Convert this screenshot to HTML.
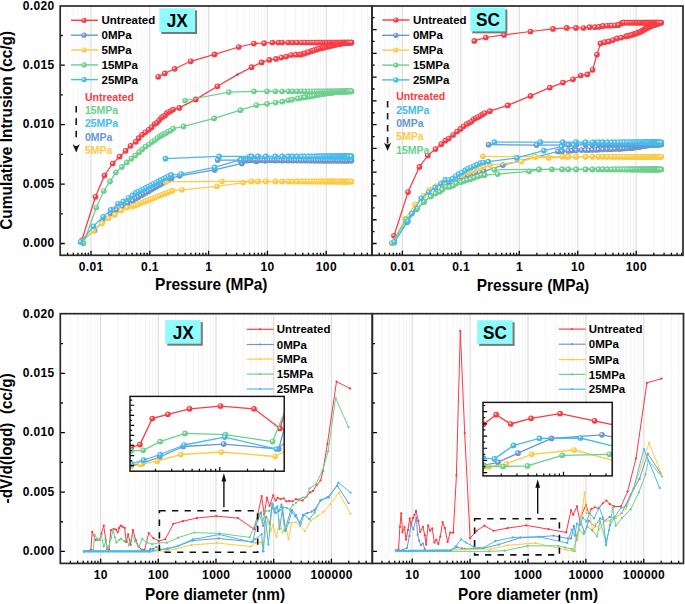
<!DOCTYPE html>
<html><head><meta charset="utf-8"><style>
html,body{margin:0;padding:0;background:#fff;}
svg{display:block;}
</style></head><body>
<svg width="685" height="604" viewBox="0 0 685 604">
<rect width="685" height="604" fill="#fff"/>
<line x1="67.60" y1="6.0" x2="67.60" y2="255.3" stroke="#f3f3f3" stroke-width="0.8"/>
<line x1="73.30" y1="6.0" x2="73.30" y2="255.3" stroke="#f3f3f3" stroke-width="0.8"/>
<line x1="77.96" y1="6.0" x2="77.96" y2="255.3" stroke="#f3f3f3" stroke-width="0.8"/>
<line x1="81.89" y1="6.0" x2="81.89" y2="255.3" stroke="#f3f3f3" stroke-width="0.8"/>
<line x1="85.30" y1="6.0" x2="85.30" y2="255.3" stroke="#f3f3f3" stroke-width="0.8"/>
<line x1="88.31" y1="6.0" x2="88.31" y2="255.3" stroke="#f3f3f3" stroke-width="0.8"/>
<line x1="91.00" y1="6.0" x2="91.00" y2="255.3" stroke="#dedede" stroke-width="1.2"/>
<line x1="108.70" y1="6.0" x2="108.70" y2="255.3" stroke="#f3f3f3" stroke-width="0.8"/>
<line x1="119.05" y1="6.0" x2="119.05" y2="255.3" stroke="#f3f3f3" stroke-width="0.8"/>
<line x1="126.40" y1="6.0" x2="126.40" y2="255.3" stroke="#f3f3f3" stroke-width="0.8"/>
<line x1="132.10" y1="6.0" x2="132.10" y2="255.3" stroke="#f3f3f3" stroke-width="0.8"/>
<line x1="136.76" y1="6.0" x2="136.76" y2="255.3" stroke="#f3f3f3" stroke-width="0.8"/>
<line x1="140.69" y1="6.0" x2="140.69" y2="255.3" stroke="#f3f3f3" stroke-width="0.8"/>
<line x1="144.10" y1="6.0" x2="144.10" y2="255.3" stroke="#f3f3f3" stroke-width="0.8"/>
<line x1="147.11" y1="6.0" x2="147.11" y2="255.3" stroke="#f3f3f3" stroke-width="0.8"/>
<line x1="149.80" y1="6.0" x2="149.80" y2="255.3" stroke="#dedede" stroke-width="1.2"/>
<line x1="167.50" y1="6.0" x2="167.50" y2="255.3" stroke="#f3f3f3" stroke-width="0.8"/>
<line x1="177.85" y1="6.0" x2="177.85" y2="255.3" stroke="#f3f3f3" stroke-width="0.8"/>
<line x1="185.20" y1="6.0" x2="185.20" y2="255.3" stroke="#f3f3f3" stroke-width="0.8"/>
<line x1="190.90" y1="6.0" x2="190.90" y2="255.3" stroke="#f3f3f3" stroke-width="0.8"/>
<line x1="195.56" y1="6.0" x2="195.56" y2="255.3" stroke="#f3f3f3" stroke-width="0.8"/>
<line x1="199.49" y1="6.0" x2="199.49" y2="255.3" stroke="#f3f3f3" stroke-width="0.8"/>
<line x1="202.90" y1="6.0" x2="202.90" y2="255.3" stroke="#f3f3f3" stroke-width="0.8"/>
<line x1="205.91" y1="6.0" x2="205.91" y2="255.3" stroke="#f3f3f3" stroke-width="0.8"/>
<line x1="208.60" y1="6.0" x2="208.60" y2="255.3" stroke="#dedede" stroke-width="1.2"/>
<line x1="226.30" y1="6.0" x2="226.30" y2="255.3" stroke="#f3f3f3" stroke-width="0.8"/>
<line x1="236.65" y1="6.0" x2="236.65" y2="255.3" stroke="#f3f3f3" stroke-width="0.8"/>
<line x1="244.00" y1="6.0" x2="244.00" y2="255.3" stroke="#f3f3f3" stroke-width="0.8"/>
<line x1="249.70" y1="6.0" x2="249.70" y2="255.3" stroke="#f3f3f3" stroke-width="0.8"/>
<line x1="254.36" y1="6.0" x2="254.36" y2="255.3" stroke="#f3f3f3" stroke-width="0.8"/>
<line x1="258.29" y1="6.0" x2="258.29" y2="255.3" stroke="#f3f3f3" stroke-width="0.8"/>
<line x1="261.70" y1="6.0" x2="261.70" y2="255.3" stroke="#f3f3f3" stroke-width="0.8"/>
<line x1="264.71" y1="6.0" x2="264.71" y2="255.3" stroke="#f3f3f3" stroke-width="0.8"/>
<line x1="267.40" y1="6.0" x2="267.40" y2="255.3" stroke="#dedede" stroke-width="1.2"/>
<line x1="285.10" y1="6.0" x2="285.10" y2="255.3" stroke="#f3f3f3" stroke-width="0.8"/>
<line x1="295.45" y1="6.0" x2="295.45" y2="255.3" stroke="#f3f3f3" stroke-width="0.8"/>
<line x1="302.80" y1="6.0" x2="302.80" y2="255.3" stroke="#f3f3f3" stroke-width="0.8"/>
<line x1="308.50" y1="6.0" x2="308.50" y2="255.3" stroke="#f3f3f3" stroke-width="0.8"/>
<line x1="313.16" y1="6.0" x2="313.16" y2="255.3" stroke="#f3f3f3" stroke-width="0.8"/>
<line x1="317.09" y1="6.0" x2="317.09" y2="255.3" stroke="#f3f3f3" stroke-width="0.8"/>
<line x1="320.50" y1="6.0" x2="320.50" y2="255.3" stroke="#f3f3f3" stroke-width="0.8"/>
<line x1="323.51" y1="6.0" x2="323.51" y2="255.3" stroke="#f3f3f3" stroke-width="0.8"/>
<line x1="326.20" y1="6.0" x2="326.20" y2="255.3" stroke="#dedede" stroke-width="1.2"/>
<line x1="343.90" y1="6.0" x2="343.90" y2="255.3" stroke="#f3f3f3" stroke-width="0.8"/>
<line x1="354.25" y1="6.0" x2="354.25" y2="255.3" stroke="#f3f3f3" stroke-width="0.8"/>
<line x1="361.60" y1="6.0" x2="361.60" y2="255.3" stroke="#f3f3f3" stroke-width="0.8"/>
<line x1="367.30" y1="6.0" x2="367.30" y2="255.3" stroke="#f3f3f3" stroke-width="0.8"/>
<path d="M67.60 255.30v-2.6 M73.30 255.30v-2.6 M77.96 255.30v-2.6 M81.89 255.30v-2.6 M85.30 255.30v-2.6 M88.31 255.30v-2.6 M91.00 255.30v-4.6 M108.70 255.30v-2.6 M119.05 255.30v-2.6 M126.40 255.30v-2.6 M132.10 255.30v-2.6 M136.76 255.30v-2.6 M140.69 255.30v-2.6 M144.10 255.30v-2.6 M147.11 255.30v-2.6 M149.80 255.30v-4.6 M167.50 255.30v-2.6 M177.85 255.30v-2.6 M185.20 255.30v-2.6 M190.90 255.30v-2.6 M195.56 255.30v-2.6 M199.49 255.30v-2.6 M202.90 255.30v-2.6 M205.91 255.30v-2.6 M208.60 255.30v-4.6 M226.30 255.30v-2.6 M236.65 255.30v-2.6 M244.00 255.30v-2.6 M249.70 255.30v-2.6 M254.36 255.30v-2.6 M258.29 255.30v-2.6 M261.70 255.30v-2.6 M264.71 255.30v-2.6 M267.40 255.30v-4.6 M285.10 255.30v-2.6 M295.45 255.30v-2.6 M302.80 255.30v-2.6 M308.50 255.30v-2.6 M313.16 255.30v-2.6 M317.09 255.30v-2.6 M320.50 255.30v-2.6 M323.51 255.30v-2.6 M326.20 255.30v-4.6 M343.90 255.30v-2.6 M354.25 255.30v-2.6 M361.60 255.30v-2.6 M367.30 255.30v-2.6 M60.20 213.78h2.6 M60.20 184.07h4.6 M60.20 154.36h2.6 M60.20 124.64h4.6 M60.20 94.92h2.6 M60.20 65.21h4.6 M60.20 35.49h2.6 M60.20 243.50h4.6" stroke="#000" stroke-width="1.3" fill="none"/>
<line x1="379.14" y1="6.0" x2="379.14" y2="255.3" stroke="#f3f3f3" stroke-width="0.8"/>
<line x1="384.80" y1="6.0" x2="384.80" y2="255.3" stroke="#f3f3f3" stroke-width="0.8"/>
<line x1="389.43" y1="6.0" x2="389.43" y2="255.3" stroke="#f3f3f3" stroke-width="0.8"/>
<line x1="393.35" y1="6.0" x2="393.35" y2="255.3" stroke="#f3f3f3" stroke-width="0.8"/>
<line x1="396.74" y1="6.0" x2="396.74" y2="255.3" stroke="#f3f3f3" stroke-width="0.8"/>
<line x1="399.73" y1="6.0" x2="399.73" y2="255.3" stroke="#f3f3f3" stroke-width="0.8"/>
<line x1="402.40" y1="6.0" x2="402.40" y2="255.3" stroke="#dedede" stroke-width="1.2"/>
<line x1="420.00" y1="6.0" x2="420.00" y2="255.3" stroke="#f3f3f3" stroke-width="0.8"/>
<line x1="430.29" y1="6.0" x2="430.29" y2="255.3" stroke="#f3f3f3" stroke-width="0.8"/>
<line x1="437.59" y1="6.0" x2="437.59" y2="255.3" stroke="#f3f3f3" stroke-width="0.8"/>
<line x1="443.25" y1="6.0" x2="443.25" y2="255.3" stroke="#f3f3f3" stroke-width="0.8"/>
<line x1="447.88" y1="6.0" x2="447.88" y2="255.3" stroke="#f3f3f3" stroke-width="0.8"/>
<line x1="451.80" y1="6.0" x2="451.80" y2="255.3" stroke="#f3f3f3" stroke-width="0.8"/>
<line x1="455.19" y1="6.0" x2="455.19" y2="255.3" stroke="#f3f3f3" stroke-width="0.8"/>
<line x1="458.18" y1="6.0" x2="458.18" y2="255.3" stroke="#f3f3f3" stroke-width="0.8"/>
<line x1="460.85" y1="6.0" x2="460.85" y2="255.3" stroke="#dedede" stroke-width="1.2"/>
<line x1="478.45" y1="6.0" x2="478.45" y2="255.3" stroke="#f3f3f3" stroke-width="0.8"/>
<line x1="488.74" y1="6.0" x2="488.74" y2="255.3" stroke="#f3f3f3" stroke-width="0.8"/>
<line x1="496.04" y1="6.0" x2="496.04" y2="255.3" stroke="#f3f3f3" stroke-width="0.8"/>
<line x1="501.70" y1="6.0" x2="501.70" y2="255.3" stroke="#f3f3f3" stroke-width="0.8"/>
<line x1="506.33" y1="6.0" x2="506.33" y2="255.3" stroke="#f3f3f3" stroke-width="0.8"/>
<line x1="510.25" y1="6.0" x2="510.25" y2="255.3" stroke="#f3f3f3" stroke-width="0.8"/>
<line x1="513.64" y1="6.0" x2="513.64" y2="255.3" stroke="#f3f3f3" stroke-width="0.8"/>
<line x1="516.63" y1="6.0" x2="516.63" y2="255.3" stroke="#f3f3f3" stroke-width="0.8"/>
<line x1="519.30" y1="6.0" x2="519.30" y2="255.3" stroke="#dedede" stroke-width="1.2"/>
<line x1="536.90" y1="6.0" x2="536.90" y2="255.3" stroke="#f3f3f3" stroke-width="0.8"/>
<line x1="547.19" y1="6.0" x2="547.19" y2="255.3" stroke="#f3f3f3" stroke-width="0.8"/>
<line x1="554.49" y1="6.0" x2="554.49" y2="255.3" stroke="#f3f3f3" stroke-width="0.8"/>
<line x1="560.15" y1="6.0" x2="560.15" y2="255.3" stroke="#f3f3f3" stroke-width="0.8"/>
<line x1="564.78" y1="6.0" x2="564.78" y2="255.3" stroke="#f3f3f3" stroke-width="0.8"/>
<line x1="568.70" y1="6.0" x2="568.70" y2="255.3" stroke="#f3f3f3" stroke-width="0.8"/>
<line x1="572.09" y1="6.0" x2="572.09" y2="255.3" stroke="#f3f3f3" stroke-width="0.8"/>
<line x1="575.08" y1="6.0" x2="575.08" y2="255.3" stroke="#f3f3f3" stroke-width="0.8"/>
<line x1="577.75" y1="6.0" x2="577.75" y2="255.3" stroke="#dedede" stroke-width="1.2"/>
<line x1="595.35" y1="6.0" x2="595.35" y2="255.3" stroke="#f3f3f3" stroke-width="0.8"/>
<line x1="605.64" y1="6.0" x2="605.64" y2="255.3" stroke="#f3f3f3" stroke-width="0.8"/>
<line x1="612.94" y1="6.0" x2="612.94" y2="255.3" stroke="#f3f3f3" stroke-width="0.8"/>
<line x1="618.60" y1="6.0" x2="618.60" y2="255.3" stroke="#f3f3f3" stroke-width="0.8"/>
<line x1="623.23" y1="6.0" x2="623.23" y2="255.3" stroke="#f3f3f3" stroke-width="0.8"/>
<line x1="627.15" y1="6.0" x2="627.15" y2="255.3" stroke="#f3f3f3" stroke-width="0.8"/>
<line x1="630.54" y1="6.0" x2="630.54" y2="255.3" stroke="#f3f3f3" stroke-width="0.8"/>
<line x1="633.53" y1="6.0" x2="633.53" y2="255.3" stroke="#f3f3f3" stroke-width="0.8"/>
<line x1="636.20" y1="6.0" x2="636.20" y2="255.3" stroke="#dedede" stroke-width="1.2"/>
<line x1="653.80" y1="6.0" x2="653.80" y2="255.3" stroke="#f3f3f3" stroke-width="0.8"/>
<line x1="664.09" y1="6.0" x2="664.09" y2="255.3" stroke="#f3f3f3" stroke-width="0.8"/>
<line x1="671.39" y1="6.0" x2="671.39" y2="255.3" stroke="#f3f3f3" stroke-width="0.8"/>
<line x1="677.05" y1="6.0" x2="677.05" y2="255.3" stroke="#f3f3f3" stroke-width="0.8"/>
<line x1="681.68" y1="6.0" x2="681.68" y2="255.3" stroke="#f3f3f3" stroke-width="0.8"/>
<path d="M379.14 255.30v-2.6 M384.80 255.30v-2.6 M389.43 255.30v-2.6 M393.35 255.30v-2.6 M396.74 255.30v-2.6 M399.73 255.30v-2.6 M402.40 255.30v-4.6 M420.00 255.30v-2.6 M430.29 255.30v-2.6 M437.59 255.30v-2.6 M443.25 255.30v-2.6 M447.88 255.30v-2.6 M451.80 255.30v-2.6 M455.19 255.30v-2.6 M458.18 255.30v-2.6 M460.85 255.30v-4.6 M478.45 255.30v-2.6 M488.74 255.30v-2.6 M496.04 255.30v-2.6 M501.70 255.30v-2.6 M506.33 255.30v-2.6 M510.25 255.30v-2.6 M513.64 255.30v-2.6 M516.63 255.30v-2.6 M519.30 255.30v-4.6 M536.90 255.30v-2.6 M547.19 255.30v-2.6 M554.49 255.30v-2.6 M560.15 255.30v-2.6 M564.78 255.30v-2.6 M568.70 255.30v-2.6 M572.09 255.30v-2.6 M575.08 255.30v-2.6 M577.75 255.30v-4.6 M595.35 255.30v-2.6 M605.64 255.30v-2.6 M612.94 255.30v-2.6 M618.60 255.30v-2.6 M623.23 255.30v-2.6 M627.15 255.30v-2.6 M630.54 255.30v-2.6 M633.53 255.30v-2.6 M636.20 255.30v-4.6 M653.80 255.30v-2.6 M664.09 255.30v-2.6 M671.39 255.30v-2.6 M677.05 255.30v-2.6 M681.68 255.30v-2.6 M372.00 231.61h2.6 M372.00 219.73h4.6 M372.00 207.84h2.6 M372.00 195.96h4.6 M372.00 184.07h2.6 M372.00 172.18h4.6 M372.00 160.30h2.6 M372.00 148.41h4.6 M372.00 136.53h2.6 M372.00 124.64h4.6 M372.00 112.75h2.6 M372.00 100.87h4.6 M372.00 88.98h2.6 M372.00 77.10h4.6 M372.00 65.21h2.6 M372.00 53.32h4.6 M372.00 41.44h2.6 M372.00 29.55h4.6 M372.00 17.67h2.6 M372.00 243.50h4.6" stroke="#000" stroke-width="1.3" fill="none"/>
<line x1="70.43" y1="313.7" x2="70.43" y2="563.4" stroke="#f3f3f3" stroke-width="0.8"/>
<line x1="77.64" y1="313.7" x2="77.64" y2="563.4" stroke="#f3f3f3" stroke-width="0.8"/>
<line x1="83.23" y1="313.7" x2="83.23" y2="563.4" stroke="#f3f3f3" stroke-width="0.8"/>
<line x1="87.80" y1="313.7" x2="87.80" y2="563.4" stroke="#f3f3f3" stroke-width="0.8"/>
<line x1="91.66" y1="313.7" x2="91.66" y2="563.4" stroke="#f3f3f3" stroke-width="0.8"/>
<line x1="95.01" y1="313.7" x2="95.01" y2="563.4" stroke="#f3f3f3" stroke-width="0.8"/>
<line x1="97.96" y1="313.7" x2="97.96" y2="563.4" stroke="#f3f3f3" stroke-width="0.8"/>
<line x1="100.60" y1="313.7" x2="100.60" y2="563.4" stroke="#dedede" stroke-width="1.2"/>
<line x1="117.97" y1="313.7" x2="117.97" y2="563.4" stroke="#f3f3f3" stroke-width="0.8"/>
<line x1="128.13" y1="313.7" x2="128.13" y2="563.4" stroke="#f3f3f3" stroke-width="0.8"/>
<line x1="135.34" y1="313.7" x2="135.34" y2="563.4" stroke="#f3f3f3" stroke-width="0.8"/>
<line x1="140.93" y1="313.7" x2="140.93" y2="563.4" stroke="#f3f3f3" stroke-width="0.8"/>
<line x1="145.50" y1="313.7" x2="145.50" y2="563.4" stroke="#f3f3f3" stroke-width="0.8"/>
<line x1="149.36" y1="313.7" x2="149.36" y2="563.4" stroke="#f3f3f3" stroke-width="0.8"/>
<line x1="152.71" y1="313.7" x2="152.71" y2="563.4" stroke="#f3f3f3" stroke-width="0.8"/>
<line x1="155.66" y1="313.7" x2="155.66" y2="563.4" stroke="#f3f3f3" stroke-width="0.8"/>
<line x1="158.30" y1="313.7" x2="158.30" y2="563.4" stroke="#dedede" stroke-width="1.2"/>
<line x1="175.67" y1="313.7" x2="175.67" y2="563.4" stroke="#f3f3f3" stroke-width="0.8"/>
<line x1="185.83" y1="313.7" x2="185.83" y2="563.4" stroke="#f3f3f3" stroke-width="0.8"/>
<line x1="193.04" y1="313.7" x2="193.04" y2="563.4" stroke="#f3f3f3" stroke-width="0.8"/>
<line x1="198.63" y1="313.7" x2="198.63" y2="563.4" stroke="#f3f3f3" stroke-width="0.8"/>
<line x1="203.20" y1="313.7" x2="203.20" y2="563.4" stroke="#f3f3f3" stroke-width="0.8"/>
<line x1="207.06" y1="313.7" x2="207.06" y2="563.4" stroke="#f3f3f3" stroke-width="0.8"/>
<line x1="210.41" y1="313.7" x2="210.41" y2="563.4" stroke="#f3f3f3" stroke-width="0.8"/>
<line x1="213.36" y1="313.7" x2="213.36" y2="563.4" stroke="#f3f3f3" stroke-width="0.8"/>
<line x1="216.00" y1="313.7" x2="216.00" y2="563.4" stroke="#dedede" stroke-width="1.2"/>
<line x1="233.37" y1="313.7" x2="233.37" y2="563.4" stroke="#f3f3f3" stroke-width="0.8"/>
<line x1="243.53" y1="313.7" x2="243.53" y2="563.4" stroke="#f3f3f3" stroke-width="0.8"/>
<line x1="250.74" y1="313.7" x2="250.74" y2="563.4" stroke="#f3f3f3" stroke-width="0.8"/>
<line x1="256.33" y1="313.7" x2="256.33" y2="563.4" stroke="#f3f3f3" stroke-width="0.8"/>
<line x1="260.90" y1="313.7" x2="260.90" y2="563.4" stroke="#f3f3f3" stroke-width="0.8"/>
<line x1="264.76" y1="313.7" x2="264.76" y2="563.4" stroke="#f3f3f3" stroke-width="0.8"/>
<line x1="268.11" y1="313.7" x2="268.11" y2="563.4" stroke="#f3f3f3" stroke-width="0.8"/>
<line x1="271.06" y1="313.7" x2="271.06" y2="563.4" stroke="#f3f3f3" stroke-width="0.8"/>
<line x1="273.70" y1="313.7" x2="273.70" y2="563.4" stroke="#dedede" stroke-width="1.2"/>
<line x1="291.07" y1="313.7" x2="291.07" y2="563.4" stroke="#f3f3f3" stroke-width="0.8"/>
<line x1="301.23" y1="313.7" x2="301.23" y2="563.4" stroke="#f3f3f3" stroke-width="0.8"/>
<line x1="308.44" y1="313.7" x2="308.44" y2="563.4" stroke="#f3f3f3" stroke-width="0.8"/>
<line x1="314.03" y1="313.7" x2="314.03" y2="563.4" stroke="#f3f3f3" stroke-width="0.8"/>
<line x1="318.60" y1="313.7" x2="318.60" y2="563.4" stroke="#f3f3f3" stroke-width="0.8"/>
<line x1="322.46" y1="313.7" x2="322.46" y2="563.4" stroke="#f3f3f3" stroke-width="0.8"/>
<line x1="325.81" y1="313.7" x2="325.81" y2="563.4" stroke="#f3f3f3" stroke-width="0.8"/>
<line x1="328.76" y1="313.7" x2="328.76" y2="563.4" stroke="#f3f3f3" stroke-width="0.8"/>
<line x1="331.40" y1="313.7" x2="331.40" y2="563.4" stroke="#dedede" stroke-width="1.2"/>
<line x1="348.77" y1="313.7" x2="348.77" y2="563.4" stroke="#f3f3f3" stroke-width="0.8"/>
<line x1="358.93" y1="313.7" x2="358.93" y2="563.4" stroke="#f3f3f3" stroke-width="0.8"/>
<line x1="366.14" y1="313.7" x2="366.14" y2="563.4" stroke="#f3f3f3" stroke-width="0.8"/>
<path d="M70.43 563.40v-2.6 M77.64 563.40v-2.6 M83.23 563.40v-2.6 M87.80 563.40v-2.6 M91.66 563.40v-2.6 M95.01 563.40v-2.6 M97.96 563.40v-2.6 M100.60 563.40v-4.6 M117.97 563.40v-2.6 M128.13 563.40v-2.6 M135.34 563.40v-2.6 M140.93 563.40v-2.6 M145.50 563.40v-2.6 M149.36 563.40v-2.6 M152.71 563.40v-2.6 M155.66 563.40v-2.6 M158.30 563.40v-4.6 M175.67 563.40v-2.6 M185.83 563.40v-2.6 M193.04 563.40v-2.6 M198.63 563.40v-2.6 M203.20 563.40v-2.6 M207.06 563.40v-2.6 M210.41 563.40v-2.6 M213.36 563.40v-2.6 M216.00 563.40v-4.6 M233.37 563.40v-2.6 M243.53 563.40v-2.6 M250.74 563.40v-2.6 M256.33 563.40v-2.6 M260.90 563.40v-2.6 M264.76 563.40v-2.6 M268.11 563.40v-2.6 M271.06 563.40v-2.6 M273.70 563.40v-4.6 M291.07 563.40v-2.6 M301.23 563.40v-2.6 M308.44 563.40v-2.6 M314.03 563.40v-2.6 M318.60 563.40v-2.6 M322.46 563.40v-2.6 M325.81 563.40v-2.6 M328.76 563.40v-2.6 M331.40 563.40v-4.6 M348.77 563.40v-2.6 M358.93 563.40v-2.6 M366.14 563.40v-2.6 M60.30 521.73h2.6 M60.30 492.05h4.6 M60.30 462.38h2.6 M60.30 432.70h4.6 M60.30 403.02h2.6 M60.30 373.35h4.6 M60.30 343.67h2.6 M60.30 551.40h4.6" stroke="#000" stroke-width="1.3" fill="none"/>
<line x1="381.93" y1="313.7" x2="381.93" y2="563.4" stroke="#f3f3f3" stroke-width="0.8"/>
<line x1="389.16" y1="313.7" x2="389.16" y2="563.4" stroke="#f3f3f3" stroke-width="0.8"/>
<line x1="394.77" y1="313.7" x2="394.77" y2="563.4" stroke="#f3f3f3" stroke-width="0.8"/>
<line x1="399.35" y1="313.7" x2="399.35" y2="563.4" stroke="#f3f3f3" stroke-width="0.8"/>
<line x1="403.23" y1="313.7" x2="403.23" y2="563.4" stroke="#f3f3f3" stroke-width="0.8"/>
<line x1="406.59" y1="313.7" x2="406.59" y2="563.4" stroke="#f3f3f3" stroke-width="0.8"/>
<line x1="409.55" y1="313.7" x2="409.55" y2="563.4" stroke="#f3f3f3" stroke-width="0.8"/>
<line x1="412.20" y1="313.7" x2="412.20" y2="563.4" stroke="#dedede" stroke-width="1.2"/>
<line x1="429.63" y1="313.7" x2="429.63" y2="563.4" stroke="#f3f3f3" stroke-width="0.8"/>
<line x1="439.83" y1="313.7" x2="439.83" y2="563.4" stroke="#f3f3f3" stroke-width="0.8"/>
<line x1="447.06" y1="313.7" x2="447.06" y2="563.4" stroke="#f3f3f3" stroke-width="0.8"/>
<line x1="452.67" y1="313.7" x2="452.67" y2="563.4" stroke="#f3f3f3" stroke-width="0.8"/>
<line x1="457.25" y1="313.7" x2="457.25" y2="563.4" stroke="#f3f3f3" stroke-width="0.8"/>
<line x1="461.13" y1="313.7" x2="461.13" y2="563.4" stroke="#f3f3f3" stroke-width="0.8"/>
<line x1="464.49" y1="313.7" x2="464.49" y2="563.4" stroke="#f3f3f3" stroke-width="0.8"/>
<line x1="467.45" y1="313.7" x2="467.45" y2="563.4" stroke="#f3f3f3" stroke-width="0.8"/>
<line x1="470.10" y1="313.7" x2="470.10" y2="563.4" stroke="#dedede" stroke-width="1.2"/>
<line x1="487.53" y1="313.7" x2="487.53" y2="563.4" stroke="#f3f3f3" stroke-width="0.8"/>
<line x1="497.73" y1="313.7" x2="497.73" y2="563.4" stroke="#f3f3f3" stroke-width="0.8"/>
<line x1="504.96" y1="313.7" x2="504.96" y2="563.4" stroke="#f3f3f3" stroke-width="0.8"/>
<line x1="510.57" y1="313.7" x2="510.57" y2="563.4" stroke="#f3f3f3" stroke-width="0.8"/>
<line x1="515.15" y1="313.7" x2="515.15" y2="563.4" stroke="#f3f3f3" stroke-width="0.8"/>
<line x1="519.03" y1="313.7" x2="519.03" y2="563.4" stroke="#f3f3f3" stroke-width="0.8"/>
<line x1="522.39" y1="313.7" x2="522.39" y2="563.4" stroke="#f3f3f3" stroke-width="0.8"/>
<line x1="525.35" y1="313.7" x2="525.35" y2="563.4" stroke="#f3f3f3" stroke-width="0.8"/>
<line x1="528.00" y1="313.7" x2="528.00" y2="563.4" stroke="#dedede" stroke-width="1.2"/>
<line x1="545.43" y1="313.7" x2="545.43" y2="563.4" stroke="#f3f3f3" stroke-width="0.8"/>
<line x1="555.63" y1="313.7" x2="555.63" y2="563.4" stroke="#f3f3f3" stroke-width="0.8"/>
<line x1="562.86" y1="313.7" x2="562.86" y2="563.4" stroke="#f3f3f3" stroke-width="0.8"/>
<line x1="568.47" y1="313.7" x2="568.47" y2="563.4" stroke="#f3f3f3" stroke-width="0.8"/>
<line x1="573.05" y1="313.7" x2="573.05" y2="563.4" stroke="#f3f3f3" stroke-width="0.8"/>
<line x1="576.93" y1="313.7" x2="576.93" y2="563.4" stroke="#f3f3f3" stroke-width="0.8"/>
<line x1="580.29" y1="313.7" x2="580.29" y2="563.4" stroke="#f3f3f3" stroke-width="0.8"/>
<line x1="583.25" y1="313.7" x2="583.25" y2="563.4" stroke="#f3f3f3" stroke-width="0.8"/>
<line x1="585.90" y1="313.7" x2="585.90" y2="563.4" stroke="#dedede" stroke-width="1.2"/>
<line x1="603.33" y1="313.7" x2="603.33" y2="563.4" stroke="#f3f3f3" stroke-width="0.8"/>
<line x1="613.53" y1="313.7" x2="613.53" y2="563.4" stroke="#f3f3f3" stroke-width="0.8"/>
<line x1="620.76" y1="313.7" x2="620.76" y2="563.4" stroke="#f3f3f3" stroke-width="0.8"/>
<line x1="626.37" y1="313.7" x2="626.37" y2="563.4" stroke="#f3f3f3" stroke-width="0.8"/>
<line x1="630.95" y1="313.7" x2="630.95" y2="563.4" stroke="#f3f3f3" stroke-width="0.8"/>
<line x1="634.83" y1="313.7" x2="634.83" y2="563.4" stroke="#f3f3f3" stroke-width="0.8"/>
<line x1="638.19" y1="313.7" x2="638.19" y2="563.4" stroke="#f3f3f3" stroke-width="0.8"/>
<line x1="641.15" y1="313.7" x2="641.15" y2="563.4" stroke="#f3f3f3" stroke-width="0.8"/>
<line x1="643.80" y1="313.7" x2="643.80" y2="563.4" stroke="#dedede" stroke-width="1.2"/>
<line x1="661.23" y1="313.7" x2="661.23" y2="563.4" stroke="#f3f3f3" stroke-width="0.8"/>
<line x1="671.43" y1="313.7" x2="671.43" y2="563.4" stroke="#f3f3f3" stroke-width="0.8"/>
<line x1="678.66" y1="313.7" x2="678.66" y2="563.4" stroke="#f3f3f3" stroke-width="0.8"/>
<path d="M381.93 563.40v-2.6 M389.16 563.40v-2.6 M394.77 563.40v-2.6 M399.35 563.40v-2.6 M403.23 563.40v-2.6 M406.59 563.40v-2.6 M409.55 563.40v-2.6 M412.20 563.40v-4.6 M429.63 563.40v-2.6 M439.83 563.40v-2.6 M447.06 563.40v-2.6 M452.67 563.40v-2.6 M457.25 563.40v-2.6 M461.13 563.40v-2.6 M464.49 563.40v-2.6 M467.45 563.40v-2.6 M470.10 563.40v-4.6 M487.53 563.40v-2.6 M497.73 563.40v-2.6 M504.96 563.40v-2.6 M510.57 563.40v-2.6 M515.15 563.40v-2.6 M519.03 563.40v-2.6 M522.39 563.40v-2.6 M525.35 563.40v-2.6 M528.00 563.40v-4.6 M545.43 563.40v-2.6 M555.63 563.40v-2.6 M562.86 563.40v-2.6 M568.47 563.40v-2.6 M573.05 563.40v-2.6 M576.93 563.40v-2.6 M580.29 563.40v-2.6 M583.25 563.40v-2.6 M585.90 563.40v-4.6 M603.33 563.40v-2.6 M613.53 563.40v-2.6 M620.76 563.40v-2.6 M626.37 563.40v-2.6 M630.95 563.40v-2.6 M634.83 563.40v-2.6 M638.19 563.40v-2.6 M641.15 563.40v-2.6 M643.80 563.40v-4.6 M661.23 563.40v-2.6 M671.43 563.40v-2.6 M678.66 563.40v-2.6 M372.30 521.73h2.6 M372.30 492.05h4.6 M372.30 462.38h2.6 M372.30 432.70h4.6 M372.30 403.02h2.6 M372.30 373.35h4.6 M372.30 343.67h2.6 M372.30 551.40h4.6" stroke="#000" stroke-width="1.3" fill="none"/>
<defs><g id="mf83c45"><circle r="2.85" fill="#f83c45"/><circle cx="-0.6" cy="-0.7" r="1.05" fill="#fff" fill-opacity="0.8"/></g><g id="m6a97d0"><circle r="2.85" fill="#6a97d0"/><circle cx="-0.6" cy="-0.7" r="1.05" fill="#fff" fill-opacity="0.8"/></g><g id="mfccb46"><circle r="2.85" fill="#fccb46"/><circle cx="-0.6" cy="-0.7" r="1.05" fill="#fff" fill-opacity="0.8"/></g><g id="m6dcf8d"><circle r="2.85" fill="#6dcf8d"/><circle cx="-0.6" cy="-0.7" r="1.05" fill="#fff" fill-opacity="0.8"/></g><g id="m45bbeb"><circle r="2.85" fill="#45bbeb"/><circle cx="-0.6" cy="-0.7" r="1.05" fill="#fff" fill-opacity="0.8"/></g></defs>
<path d="M81.80 240.30 L95.50 196.80 L104.50 175.50 L112.70 163.50 L119.60 156.60 L125.60 150.80 L130.50 145.80 L135.80 141.80 L138.70 138.20 L142.00 134.80 L145.30 132.30 L148.70 129.80 L151.60 127.30 L154.50 124.00 L156.90 122.80 L159.00 120.30 L161.10 117.80 L163.10 116.60 L165.20 115.30 L166.90 113.20 L168.90 112.00 L171.00 110.80 L173.10 109.50 L179.30 107.90 L195.80 99.40 L217.40 86.30 L237.40 74.60 L251.60 67.20 L261.60 62.40 L269.30 59.90 L276.00 58.90 L281.40 57.60 L286.20 56.60 L291.10 55.00 L295.90 54.70 L299.70 54.70 L303.60 53.70 L307.40 52.50 L312.30 50.80 L317.10 49.30 L322.90 47.70 L328.60 46.40 L336.30 44.50 L344.00 43.10 L351.30 42.50" stroke="#f83c45" stroke-width="1.25" fill="none" stroke-linejoin="round"/>
<use href="#mf83c45" x="81.80" y="240.30"/>
<use href="#mf83c45" x="95.50" y="196.80"/>
<use href="#mf83c45" x="104.50" y="175.50"/>
<use href="#mf83c45" x="112.70" y="163.50"/>
<use href="#mf83c45" x="119.60" y="156.60"/>
<use href="#mf83c45" x="125.60" y="150.80"/>
<use href="#mf83c45" x="130.50" y="145.80"/>
<use href="#mf83c45" x="135.80" y="141.80"/>
<use href="#mf83c45" x="138.70" y="138.20"/>
<use href="#mf83c45" x="142.00" y="134.80"/>
<use href="#mf83c45" x="145.30" y="132.30"/>
<use href="#mf83c45" x="148.70" y="129.80"/>
<use href="#mf83c45" x="151.60" y="127.30"/>
<use href="#mf83c45" x="154.50" y="124.00"/>
<use href="#mf83c45" x="156.90" y="122.80"/>
<use href="#mf83c45" x="159.00" y="120.30"/>
<use href="#mf83c45" x="161.10" y="117.80"/>
<use href="#mf83c45" x="163.10" y="116.60"/>
<use href="#mf83c45" x="165.20" y="115.30"/>
<use href="#mf83c45" x="166.90" y="113.20"/>
<use href="#mf83c45" x="168.90" y="112.00"/>
<use href="#mf83c45" x="171.00" y="110.80"/>
<use href="#mf83c45" x="173.10" y="109.50"/>
<use href="#mf83c45" x="179.30" y="107.90"/>
<use href="#mf83c45" x="195.80" y="99.40"/>
<use href="#mf83c45" x="217.40" y="86.30"/>
<circle cx="237.4" cy="74.6" r="1.4" fill="#f83c45"/>
<use href="#mf83c45" x="251.60" y="67.20"/>
<use href="#mf83c45" x="261.60" y="62.40"/>
<use href="#mf83c45" x="269.30" y="59.90"/>
<use href="#mf83c45" x="276.00" y="58.90"/>
<use href="#mf83c45" x="281.40" y="57.60"/>
<use href="#mf83c45" x="286.20" y="56.60"/>
<use href="#mf83c45" x="291.10" y="55.00"/>
<use href="#mf83c45" x="295.90" y="54.70"/>
<use href="#mf83c45" x="299.70" y="54.70"/>
<use href="#mf83c45" x="301.36" y="54.28"/>
<use href="#mf83c45" x="303.60" y="53.70"/>
<use href="#mf83c45" x="304.88" y="53.29"/>
<use href="#mf83c45" x="307.40" y="52.50"/>
<use href="#mf83c45" x="308.40" y="52.15"/>
<use href="#mf83c45" x="311.39" y="51.11"/>
<use href="#mf83c45" x="312.30" y="50.80"/>
<use href="#mf83c45" x="314.20" y="50.21"/>
<use href="#mf83c45" x="316.72" y="49.42"/>
<use href="#mf83c45" x="317.10" y="49.30"/>
<use href="#mf83c45" x="319.02" y="48.77"/>
<use href="#mf83c45" x="321.13" y="48.19"/>
<use href="#mf83c45" x="322.90" y="47.70"/>
<use href="#mf83c45" x="323.08" y="47.66"/>
<use href="#mf83c45" x="324.89" y="47.25"/>
<use href="#mf83c45" x="326.58" y="46.86"/>
<use href="#mf83c45" x="328.17" y="46.50"/>
<use href="#mf83c45" x="328.60" y="46.40"/>
<use href="#mf83c45" x="329.66" y="46.14"/>
<use href="#mf83c45" x="331.07" y="45.79"/>
<use href="#mf83c45" x="332.40" y="45.46"/>
<use href="#mf83c45" x="333.67" y="45.15"/>
<use href="#mf83c45" x="334.88" y="44.85"/>
<use href="#mf83c45" x="336.04" y="44.56"/>
<use href="#mf83c45" x="336.30" y="44.50"/>
<use href="#mf83c45" x="337.14" y="44.35"/>
<use href="#mf83c45" x="338.20" y="44.15"/>
<use href="#mf83c45" x="339.22" y="43.97"/>
<use href="#mf83c45" x="340.20" y="43.79"/>
<use href="#mf83c45" x="341.14" y="43.62"/>
<use href="#mf83c45" x="342.05" y="43.46"/>
<use href="#mf83c45" x="342.92" y="43.30"/>
<use href="#mf83c45" x="343.77" y="43.14"/>
<use href="#mf83c45" x="344.00" y="43.10"/>
<use href="#mf83c45" x="344.59" y="43.05"/>
<use href="#mf83c45" x="345.39" y="42.99"/>
<use href="#mf83c45" x="346.16" y="42.92"/>
<use href="#mf83c45" x="346.91" y="42.86"/>
<use href="#mf83c45" x="347.64" y="42.80"/>
<use href="#mf83c45" x="348.34" y="42.74"/>
<use href="#mf83c45" x="349.03" y="42.69"/>
<use href="#mf83c45" x="351.28" y="42.50"/>
<use href="#mf83c45" x="351.30" y="42.50"/>
<path d="M158.20 76.80 L164.80 73.40 L174.70 68.80 L190.70 61.30 L214.50 54.40 L238.80 47.00 L253.90 43.50 L264.10 43.20 L272.40 42.50 L278.50 42.50 L351.30 42.50" stroke="#f83c45" stroke-width="1.25" fill="none" stroke-linejoin="round"/>
<use href="#mf83c45" x="158.20" y="76.80"/>
<use href="#mf83c45" x="164.80" y="73.40"/>
<use href="#mf83c45" x="174.70" y="68.80"/>
<use href="#mf83c45" x="190.70" y="61.30"/>
<use href="#mf83c45" x="214.50" y="54.40"/>
<use href="#mf83c45" x="238.80" y="47.00"/>
<use href="#mf83c45" x="253.90" y="43.50"/>
<use href="#mf83c45" x="264.10" y="43.20"/>
<use href="#mf83c45" x="272.40" y="42.50"/>
<use href="#mf83c45" x="278.50" y="42.50"/>
<use href="#mf83c45" x="282.12" y="42.50"/>
<use href="#mf83c45" x="288.22" y="42.50"/>
<use href="#mf83c45" x="292.57" y="42.50"/>
<use href="#mf83c45" x="297.02" y="42.50"/>
<use href="#mf83c45" x="301.36" y="42.50"/>
<use href="#mf83c45" x="304.88" y="42.50"/>
<use href="#mf83c45" x="308.40" y="42.50"/>
<use href="#mf83c45" x="311.39" y="42.50"/>
<use href="#mf83c45" x="314.20" y="42.50"/>
<use href="#mf83c45" x="316.72" y="42.50"/>
<use href="#mf83c45" x="319.02" y="42.50"/>
<use href="#mf83c45" x="321.13" y="42.50"/>
<use href="#mf83c45" x="323.08" y="42.50"/>
<use href="#mf83c45" x="324.89" y="42.50"/>
<use href="#mf83c45" x="326.58" y="42.50"/>
<use href="#mf83c45" x="328.17" y="42.50"/>
<use href="#mf83c45" x="329.66" y="42.50"/>
<use href="#mf83c45" x="331.07" y="42.50"/>
<use href="#mf83c45" x="332.40" y="42.50"/>
<use href="#mf83c45" x="333.67" y="42.50"/>
<use href="#mf83c45" x="334.88" y="42.50"/>
<use href="#mf83c45" x="336.04" y="42.50"/>
<use href="#mf83c45" x="337.14" y="42.50"/>
<use href="#mf83c45" x="338.20" y="42.50"/>
<use href="#mf83c45" x="339.22" y="42.50"/>
<use href="#mf83c45" x="340.20" y="42.50"/>
<use href="#mf83c45" x="341.14" y="42.50"/>
<use href="#mf83c45" x="342.05" y="42.50"/>
<use href="#mf83c45" x="342.92" y="42.50"/>
<use href="#mf83c45" x="343.77" y="42.50"/>
<use href="#mf83c45" x="344.59" y="42.50"/>
<use href="#mf83c45" x="345.39" y="42.50"/>
<use href="#mf83c45" x="346.16" y="42.50"/>
<use href="#mf83c45" x="346.91" y="42.50"/>
<use href="#mf83c45" x="347.64" y="42.50"/>
<use href="#mf83c45" x="348.34" y="42.50"/>
<use href="#mf83c45" x="349.03" y="42.50"/>
<use href="#mf83c45" x="351.28" y="42.50"/>
<use href="#mf83c45" x="351.30" y="42.50"/>
<path d="M81.80 241.40 L94.50 230.40 L102.50 221.50 L110.50 213.60 L116.60 209.90 L122.30 206.70 L127.60 203.20 L132.80 200.90 L135.70 198.50 L171.70 178.00 L179.70 175.80 L214.70 169.90 L241.80 163.40 L256.40 161.50 L265.00 160.60 L351.30 160.50" stroke="#6a97d0" stroke-width="1.25" fill="none" stroke-linejoin="round"/>
<use href="#m6a97d0" x="81.80" y="241.40"/>
<use href="#m6a97d0" x="94.50" y="230.40"/>
<use href="#m6a97d0" x="102.50" y="221.50"/>
<use href="#m6a97d0" x="110.50" y="213.60"/>
<use href="#m6a97d0" x="116.60" y="209.90"/>
<use href="#m6a97d0" x="122.30" y="206.70"/>
<use href="#m6a97d0" x="127.60" y="203.20"/>
<use href="#m6a97d0" x="132.80" y="200.90"/>
<use href="#m6a97d0" x="135.70" y="198.50"/>
<use href="#m6a97d0" x="136.00" y="198.33"/>
<use href="#m6a97d0" x="138.50" y="196.91"/>
<use href="#m6a97d0" x="141.00" y="195.48"/>
<use href="#m6a97d0" x="143.50" y="194.06"/>
<use href="#m6a97d0" x="146.00" y="192.63"/>
<use href="#m6a97d0" x="148.50" y="191.21"/>
<use href="#m6a97d0" x="151.00" y="189.79"/>
<use href="#m6a97d0" x="153.50" y="188.36"/>
<use href="#m6a97d0" x="156.00" y="186.94"/>
<use href="#m6a97d0" x="158.50" y="185.52"/>
<use href="#m6a97d0" x="161.00" y="184.09"/>
<use href="#m6a97d0" x="163.50" y="182.67"/>
<use href="#m6a97d0" x="166.00" y="181.25"/>
<use href="#m6a97d0" x="168.50" y="179.82"/>
<use href="#m6a97d0" x="171.00" y="178.40"/>
<use href="#m6a97d0" x="171.70" y="178.00"/>
<use href="#m6a97d0" x="179.70" y="175.80"/>
<use href="#m6a97d0" x="214.70" y="169.90"/>
<use href="#m6a97d0" x="241.80" y="163.40"/>
<use href="#m6a97d0" x="256.40" y="161.50"/>
<use href="#m6a97d0" x="265.00" y="160.60"/>
<use href="#m6a97d0" x="265.82" y="160.60"/>
<use href="#m6a97d0" x="275.25" y="160.59"/>
<use href="#m6a97d0" x="282.12" y="160.58"/>
<use href="#m6a97d0" x="288.22" y="160.57"/>
<use href="#m6a97d0" x="292.57" y="160.57"/>
<use href="#m6a97d0" x="297.02" y="160.56"/>
<use href="#m6a97d0" x="301.36" y="160.56"/>
<use href="#m6a97d0" x="304.88" y="160.55"/>
<use href="#m6a97d0" x="308.40" y="160.55"/>
<use href="#m6a97d0" x="311.39" y="160.55"/>
<use href="#m6a97d0" x="314.20" y="160.54"/>
<use href="#m6a97d0" x="316.72" y="160.54"/>
<use href="#m6a97d0" x="319.02" y="160.54"/>
<use href="#m6a97d0" x="321.13" y="160.53"/>
<use href="#m6a97d0" x="323.08" y="160.53"/>
<use href="#m6a97d0" x="324.89" y="160.53"/>
<use href="#m6a97d0" x="326.58" y="160.53"/>
<use href="#m6a97d0" x="328.17" y="160.53"/>
<use href="#m6a97d0" x="329.66" y="160.53"/>
<use href="#m6a97d0" x="331.07" y="160.52"/>
<use href="#m6a97d0" x="332.40" y="160.52"/>
<use href="#m6a97d0" x="333.67" y="160.52"/>
<use href="#m6a97d0" x="334.88" y="160.52"/>
<use href="#m6a97d0" x="336.04" y="160.52"/>
<use href="#m6a97d0" x="337.14" y="160.52"/>
<use href="#m6a97d0" x="338.20" y="160.52"/>
<use href="#m6a97d0" x="339.22" y="160.51"/>
<use href="#m6a97d0" x="340.20" y="160.51"/>
<use href="#m6a97d0" x="341.14" y="160.51"/>
<use href="#m6a97d0" x="342.05" y="160.51"/>
<use href="#m6a97d0" x="342.92" y="160.51"/>
<use href="#m6a97d0" x="343.77" y="160.51"/>
<use href="#m6a97d0" x="344.59" y="160.51"/>
<use href="#m6a97d0" x="345.39" y="160.51"/>
<use href="#m6a97d0" x="346.16" y="160.51"/>
<use href="#m6a97d0" x="346.91" y="160.51"/>
<use href="#m6a97d0" x="347.64" y="160.50"/>
<use href="#m6a97d0" x="348.34" y="160.50"/>
<use href="#m6a97d0" x="349.03" y="160.50"/>
<use href="#m6a97d0" x="351.28" y="160.50"/>
<use href="#m6a97d0" x="351.30" y="160.50"/>
<path d="M217.70 160.10 L351.30 160.50" stroke="#6a97d0" stroke-width="1.25" fill="none" stroke-linejoin="round"/>
<use href="#m6a97d0" x="217.70" y="160.10"/>
<use href="#m6a97d0" x="240.00" y="160.17"/>
<use href="#m6a97d0" x="242.43" y="160.17"/>
<use href="#m6a97d0" x="244.87" y="160.18"/>
<use href="#m6a97d0" x="247.30" y="160.19"/>
<use href="#m6a97d0" x="249.74" y="160.20"/>
<use href="#m6a97d0" x="252.17" y="160.20"/>
<use href="#m6a97d0" x="254.61" y="160.21"/>
<use href="#m6a97d0" x="257.04" y="160.22"/>
<use href="#m6a97d0" x="259.48" y="160.23"/>
<use href="#m6a97d0" x="261.91" y="160.23"/>
<use href="#m6a97d0" x="264.35" y="160.24"/>
<use href="#m6a97d0" x="266.78" y="160.25"/>
<use href="#m6a97d0" x="269.22" y="160.25"/>
<use href="#m6a97d0" x="271.65" y="160.26"/>
<use href="#m6a97d0" x="274.09" y="160.27"/>
<use href="#m6a97d0" x="276.52" y="160.28"/>
<use href="#m6a97d0" x="278.96" y="160.28"/>
<use href="#m6a97d0" x="281.39" y="160.29"/>
<use href="#m6a97d0" x="283.83" y="160.30"/>
<use href="#m6a97d0" x="286.26" y="160.31"/>
<use href="#m6a97d0" x="288.70" y="160.31"/>
<use href="#m6a97d0" x="291.13" y="160.32"/>
<use href="#m6a97d0" x="293.57" y="160.33"/>
<use href="#m6a97d0" x="296.00" y="160.33"/>
<use href="#m6a97d0" x="298.43" y="160.34"/>
<use href="#m6a97d0" x="300.87" y="160.35"/>
<use href="#m6a97d0" x="303.30" y="160.36"/>
<use href="#m6a97d0" x="305.74" y="160.36"/>
<use href="#m6a97d0" x="308.17" y="160.37"/>
<use href="#m6a97d0" x="310.61" y="160.38"/>
<use href="#m6a97d0" x="313.04" y="160.39"/>
<use href="#m6a97d0" x="315.48" y="160.39"/>
<use href="#m6a97d0" x="317.91" y="160.40"/>
<use href="#m6a97d0" x="320.35" y="160.41"/>
<use href="#m6a97d0" x="322.78" y="160.41"/>
<use href="#m6a97d0" x="325.22" y="160.42"/>
<use href="#m6a97d0" x="327.65" y="160.43"/>
<use href="#m6a97d0" x="330.09" y="160.44"/>
<use href="#m6a97d0" x="332.52" y="160.44"/>
<use href="#m6a97d0" x="334.96" y="160.45"/>
<use href="#m6a97d0" x="337.39" y="160.46"/>
<use href="#m6a97d0" x="339.83" y="160.47"/>
<use href="#m6a97d0" x="342.26" y="160.47"/>
<use href="#m6a97d0" x="344.70" y="160.48"/>
<use href="#m6a97d0" x="347.13" y="160.49"/>
<use href="#m6a97d0" x="349.57" y="160.49"/>
<use href="#m6a97d0" x="351.30" y="160.50"/>
<path d="M81.80 241.40 L93.40 230.80 L102.10 223.50 L108.40 218.20 L114.80 214.80 L121.20 210.40 L127.00 207.80 L132.50 206.40 L172.30 190.70 L181.90 189.80 L216.90 186.40 L243.20 182.60 L251.20 181.50 L351.30 181.50" stroke="#fccb46" stroke-width="1.25" fill="none" stroke-linejoin="round"/>
<use href="#mfccb46" x="81.80" y="241.40"/>
<use href="#mfccb46" x="93.40" y="230.80"/>
<use href="#mfccb46" x="102.10" y="223.50"/>
<use href="#mfccb46" x="108.40" y="218.20"/>
<use href="#mfccb46" x="114.80" y="214.80"/>
<use href="#mfccb46" x="121.20" y="210.40"/>
<use href="#mfccb46" x="127.00" y="207.80"/>
<use href="#mfccb46" x="132.50" y="206.40"/>
<use href="#mfccb46" x="133.00" y="206.20"/>
<use href="#mfccb46" x="135.44" y="205.24"/>
<use href="#mfccb46" x="137.88" y="204.28"/>
<use href="#mfccb46" x="140.31" y="203.32"/>
<use href="#mfccb46" x="142.75" y="202.36"/>
<use href="#mfccb46" x="145.19" y="201.40"/>
<use href="#mfccb46" x="147.62" y="200.43"/>
<use href="#mfccb46" x="150.06" y="199.47"/>
<use href="#mfccb46" x="152.50" y="198.51"/>
<use href="#mfccb46" x="154.94" y="197.55"/>
<use href="#mfccb46" x="157.38" y="196.59"/>
<use href="#mfccb46" x="159.81" y="195.63"/>
<use href="#mfccb46" x="162.25" y="194.66"/>
<use href="#mfccb46" x="164.69" y="193.70"/>
<use href="#mfccb46" x="167.12" y="192.74"/>
<use href="#mfccb46" x="169.56" y="191.78"/>
<use href="#mfccb46" x="172.00" y="190.82"/>
<use href="#mfccb46" x="172.30" y="190.70"/>
<use href="#mfccb46" x="181.90" y="189.80"/>
<use href="#mfccb46" x="216.90" y="186.40"/>
<use href="#mfccb46" x="243.20" y="182.60"/>
<use href="#mfccb46" x="251.20" y="181.50"/>
<use href="#mfccb46" x="257.92" y="181.50"/>
<use href="#mfccb46" x="265.82" y="181.50"/>
<use href="#mfccb46" x="275.25" y="181.50"/>
<use href="#mfccb46" x="282.12" y="181.50"/>
<use href="#mfccb46" x="288.22" y="181.50"/>
<use href="#mfccb46" x="292.57" y="181.50"/>
<use href="#mfccb46" x="297.02" y="181.50"/>
<use href="#mfccb46" x="301.36" y="181.50"/>
<use href="#mfccb46" x="304.88" y="181.50"/>
<use href="#mfccb46" x="308.40" y="181.50"/>
<use href="#mfccb46" x="311.39" y="181.50"/>
<use href="#mfccb46" x="314.20" y="181.50"/>
<use href="#mfccb46" x="316.72" y="181.50"/>
<use href="#mfccb46" x="319.02" y="181.50"/>
<use href="#mfccb46" x="321.13" y="181.50"/>
<use href="#mfccb46" x="323.08" y="181.50"/>
<use href="#mfccb46" x="324.89" y="181.50"/>
<use href="#mfccb46" x="326.58" y="181.50"/>
<use href="#mfccb46" x="328.17" y="181.50"/>
<use href="#mfccb46" x="329.66" y="181.50"/>
<use href="#mfccb46" x="331.07" y="181.50"/>
<use href="#mfccb46" x="332.40" y="181.50"/>
<use href="#mfccb46" x="333.67" y="181.50"/>
<use href="#mfccb46" x="334.88" y="181.50"/>
<use href="#mfccb46" x="336.04" y="181.50"/>
<use href="#mfccb46" x="337.14" y="181.50"/>
<use href="#mfccb46" x="338.20" y="181.50"/>
<use href="#mfccb46" x="339.22" y="181.50"/>
<use href="#mfccb46" x="340.20" y="181.50"/>
<use href="#mfccb46" x="341.14" y="181.50"/>
<use href="#mfccb46" x="342.05" y="181.50"/>
<use href="#mfccb46" x="342.92" y="181.50"/>
<use href="#mfccb46" x="343.77" y="181.50"/>
<use href="#mfccb46" x="344.59" y="181.50"/>
<use href="#mfccb46" x="345.39" y="181.50"/>
<use href="#mfccb46" x="346.16" y="181.50"/>
<use href="#mfccb46" x="346.91" y="181.50"/>
<use href="#mfccb46" x="347.64" y="181.50"/>
<use href="#mfccb46" x="348.34" y="181.50"/>
<use href="#mfccb46" x="349.03" y="181.50"/>
<use href="#mfccb46" x="351.28" y="181.50"/>
<use href="#mfccb46" x="351.30" y="181.50"/>
<path d="M165.80 181.90 L222.00 181.30 L351.30 181.50" stroke="#fccb46" stroke-width="1.25" fill="none" stroke-linejoin="round"/>
<use href="#mfccb46" x="165.80" y="181.90"/>
<use href="#mfccb46" x="222.00" y="181.30"/>
<use href="#mfccb46" x="251.66" y="181.35"/>
<use href="#mfccb46" x="257.92" y="181.36"/>
<use href="#mfccb46" x="265.82" y="181.37"/>
<use href="#mfccb46" x="275.25" y="181.38"/>
<use href="#mfccb46" x="282.12" y="181.39"/>
<use href="#mfccb46" x="288.22" y="181.40"/>
<use href="#mfccb46" x="292.57" y="181.41"/>
<use href="#mfccb46" x="297.02" y="181.42"/>
<use href="#mfccb46" x="301.36" y="181.42"/>
<use href="#mfccb46" x="304.88" y="181.43"/>
<use href="#mfccb46" x="308.40" y="181.43"/>
<use href="#mfccb46" x="311.39" y="181.44"/>
<use href="#mfccb46" x="314.20" y="181.44"/>
<use href="#mfccb46" x="316.72" y="181.45"/>
<use href="#mfccb46" x="319.02" y="181.45"/>
<use href="#mfccb46" x="321.13" y="181.45"/>
<use href="#mfccb46" x="323.08" y="181.46"/>
<use href="#mfccb46" x="324.89" y="181.46"/>
<use href="#mfccb46" x="326.58" y="181.46"/>
<use href="#mfccb46" x="328.17" y="181.46"/>
<use href="#mfccb46" x="329.66" y="181.47"/>
<use href="#mfccb46" x="331.07" y="181.47"/>
<use href="#mfccb46" x="332.40" y="181.47"/>
<use href="#mfccb46" x="333.67" y="181.47"/>
<use href="#mfccb46" x="334.88" y="181.47"/>
<use href="#mfccb46" x="336.04" y="181.48"/>
<use href="#mfccb46" x="337.14" y="181.48"/>
<use href="#mfccb46" x="338.20" y="181.48"/>
<use href="#mfccb46" x="339.22" y="181.48"/>
<use href="#mfccb46" x="340.20" y="181.48"/>
<use href="#mfccb46" x="341.14" y="181.48"/>
<use href="#mfccb46" x="342.05" y="181.49"/>
<use href="#mfccb46" x="342.92" y="181.49"/>
<use href="#mfccb46" x="343.77" y="181.49"/>
<use href="#mfccb46" x="344.59" y="181.49"/>
<use href="#mfccb46" x="345.39" y="181.49"/>
<use href="#mfccb46" x="346.16" y="181.49"/>
<use href="#mfccb46" x="346.91" y="181.49"/>
<use href="#mfccb46" x="347.64" y="181.49"/>
<use href="#mfccb46" x="348.34" y="181.50"/>
<use href="#mfccb46" x="349.03" y="181.50"/>
<use href="#mfccb46" x="351.28" y="181.50"/>
<use href="#mfccb46" x="351.30" y="181.50"/>
<path d="M83.50 243.50 L96.30 207.50 L103.80 191.00 L110.00 181.40 L115.90 172.30 L121.90 166.90 L126.70 162.40 L131.40 158.70 L135.30 155.50 L139.10 152.20 L142.20 149.30 L145.50 146.60 L148.90 144.30 L152.00 142.00 L154.90 140.10 L157.40 138.10 L159.80 136.40 L161.90 135.20 L164.00 133.90 L166.00 133.10 L168.10 131.50 L170.60 130.60 L173.10 128.60 L183.50 126.40 L214.20 118.40 L240.40 110.20 L256.40 105.10 L267.00 103.80 L275.60 102.60 L282.40 101.70 L288.20 100.30 L292.00 99.70 L297.80 98.40 L303.60 97.40 L309.40 96.50 L317.10 95.10 L324.80 93.60 L332.50 92.60 L340.20 91.70 L351.30 91.30" stroke="#6dcf8d" stroke-width="1.25" fill="none" stroke-linejoin="round"/>
<use href="#m6dcf8d" x="83.50" y="243.50"/>
<use href="#m6dcf8d" x="96.30" y="207.50"/>
<use href="#m6dcf8d" x="103.80" y="191.00"/>
<use href="#m6dcf8d" x="110.00" y="181.40"/>
<use href="#m6dcf8d" x="115.90" y="172.30"/>
<use href="#m6dcf8d" x="121.90" y="166.90"/>
<use href="#m6dcf8d" x="126.70" y="162.40"/>
<use href="#m6dcf8d" x="131.40" y="158.70"/>
<use href="#m6dcf8d" x="135.30" y="155.50"/>
<use href="#m6dcf8d" x="139.10" y="152.20"/>
<use href="#m6dcf8d" x="142.20" y="149.30"/>
<use href="#m6dcf8d" x="145.50" y="146.60"/>
<use href="#m6dcf8d" x="148.90" y="144.30"/>
<use href="#m6dcf8d" x="152.00" y="142.00"/>
<use href="#m6dcf8d" x="154.90" y="140.10"/>
<use href="#m6dcf8d" x="157.40" y="138.10"/>
<use href="#m6dcf8d" x="159.80" y="136.40"/>
<use href="#m6dcf8d" x="161.90" y="135.20"/>
<use href="#m6dcf8d" x="164.00" y="133.90"/>
<use href="#m6dcf8d" x="166.00" y="133.10"/>
<use href="#m6dcf8d" x="168.10" y="131.50"/>
<use href="#m6dcf8d" x="170.60" y="130.60"/>
<use href="#m6dcf8d" x="173.10" y="128.60"/>
<use href="#m6dcf8d" x="183.50" y="126.40"/>
<use href="#m6dcf8d" x="214.20" y="118.40"/>
<use href="#m6dcf8d" x="240.40" y="110.20"/>
<use href="#m6dcf8d" x="256.40" y="105.10"/>
<use href="#m6dcf8d" x="267.00" y="103.80"/>
<use href="#m6dcf8d" x="275.60" y="102.60"/>
<use href="#m6dcf8d" x="282.40" y="101.70"/>
<use href="#m6dcf8d" x="288.20" y="100.30"/>
<use href="#m6dcf8d" x="292.00" y="99.70"/>
<use href="#m6dcf8d" x="297.80" y="98.40"/>
<use href="#m6dcf8d" x="301.36" y="97.79"/>
<use href="#m6dcf8d" x="303.60" y="97.40"/>
<use href="#m6dcf8d" x="304.88" y="97.20"/>
<use href="#m6dcf8d" x="308.40" y="96.66"/>
<use href="#m6dcf8d" x="309.40" y="96.50"/>
<use href="#m6dcf8d" x="311.39" y="96.14"/>
<use href="#m6dcf8d" x="314.20" y="95.63"/>
<use href="#m6dcf8d" x="316.72" y="95.17"/>
<use href="#m6dcf8d" x="317.10" y="95.10"/>
<use href="#m6dcf8d" x="319.02" y="94.73"/>
<use href="#m6dcf8d" x="321.13" y="94.31"/>
<use href="#m6dcf8d" x="323.08" y="93.94"/>
<use href="#m6dcf8d" x="324.80" y="93.60"/>
<use href="#m6dcf8d" x="324.89" y="93.59"/>
<use href="#m6dcf8d" x="326.58" y="93.37"/>
<use href="#m6dcf8d" x="328.17" y="93.16"/>
<use href="#m6dcf8d" x="329.66" y="92.97"/>
<use href="#m6dcf8d" x="331.07" y="92.79"/>
<use href="#m6dcf8d" x="332.40" y="92.61"/>
<use href="#m6dcf8d" x="332.50" y="92.60"/>
<use href="#m6dcf8d" x="333.67" y="92.46"/>
<use href="#m6dcf8d" x="334.88" y="92.32"/>
<use href="#m6dcf8d" x="336.04" y="92.19"/>
<use href="#m6dcf8d" x="337.14" y="92.06"/>
<use href="#m6dcf8d" x="338.20" y="91.93"/>
<use href="#m6dcf8d" x="339.22" y="91.81"/>
<use href="#m6dcf8d" x="340.20" y="91.70"/>
<use href="#m6dcf8d" x="340.20" y="91.70"/>
<use href="#m6dcf8d" x="341.14" y="91.67"/>
<use href="#m6dcf8d" x="342.05" y="91.63"/>
<use href="#m6dcf8d" x="342.92" y="91.60"/>
<use href="#m6dcf8d" x="343.77" y="91.57"/>
<use href="#m6dcf8d" x="344.59" y="91.54"/>
<use href="#m6dcf8d" x="345.39" y="91.51"/>
<use href="#m6dcf8d" x="346.16" y="91.49"/>
<use href="#m6dcf8d" x="346.91" y="91.46"/>
<use href="#m6dcf8d" x="347.64" y="91.43"/>
<use href="#m6dcf8d" x="348.34" y="91.41"/>
<use href="#m6dcf8d" x="349.03" y="91.38"/>
<use href="#m6dcf8d" x="351.28" y="91.30"/>
<use href="#m6dcf8d" x="351.30" y="91.30"/>
<path d="M185.10 100.50 L228.80 92.10 L254.00 91.30 L267.00 91.30 L351.30 91.30" stroke="#6dcf8d" stroke-width="1.25" fill="none" stroke-linejoin="round"/>
<use href="#m6dcf8d" x="185.10" y="100.50"/>
<use href="#m6dcf8d" x="228.80" y="92.10"/>
<use href="#m6dcf8d" x="254.00" y="91.30"/>
<use href="#m6dcf8d" x="267.00" y="91.30"/>
<use href="#m6dcf8d" x="275.25" y="91.30"/>
<use href="#m6dcf8d" x="282.12" y="91.30"/>
<use href="#m6dcf8d" x="288.22" y="91.30"/>
<use href="#m6dcf8d" x="292.57" y="91.30"/>
<use href="#m6dcf8d" x="297.02" y="91.30"/>
<use href="#m6dcf8d" x="301.36" y="91.30"/>
<use href="#m6dcf8d" x="304.88" y="91.30"/>
<use href="#m6dcf8d" x="308.40" y="91.30"/>
<use href="#m6dcf8d" x="311.39" y="91.30"/>
<use href="#m6dcf8d" x="314.20" y="91.30"/>
<use href="#m6dcf8d" x="316.72" y="91.30"/>
<use href="#m6dcf8d" x="319.02" y="91.30"/>
<use href="#m6dcf8d" x="321.13" y="91.30"/>
<use href="#m6dcf8d" x="323.08" y="91.30"/>
<use href="#m6dcf8d" x="324.89" y="91.30"/>
<use href="#m6dcf8d" x="326.58" y="91.30"/>
<use href="#m6dcf8d" x="328.17" y="91.30"/>
<use href="#m6dcf8d" x="329.66" y="91.30"/>
<use href="#m6dcf8d" x="331.07" y="91.30"/>
<use href="#m6dcf8d" x="332.40" y="91.30"/>
<use href="#m6dcf8d" x="333.67" y="91.30"/>
<use href="#m6dcf8d" x="334.88" y="91.30"/>
<use href="#m6dcf8d" x="336.04" y="91.30"/>
<use href="#m6dcf8d" x="337.14" y="91.30"/>
<use href="#m6dcf8d" x="338.20" y="91.30"/>
<use href="#m6dcf8d" x="339.22" y="91.30"/>
<use href="#m6dcf8d" x="340.20" y="91.30"/>
<use href="#m6dcf8d" x="341.14" y="91.30"/>
<use href="#m6dcf8d" x="342.05" y="91.30"/>
<use href="#m6dcf8d" x="342.92" y="91.30"/>
<use href="#m6dcf8d" x="343.77" y="91.30"/>
<use href="#m6dcf8d" x="344.59" y="91.30"/>
<use href="#m6dcf8d" x="345.39" y="91.30"/>
<use href="#m6dcf8d" x="346.16" y="91.30"/>
<use href="#m6dcf8d" x="346.91" y="91.30"/>
<use href="#m6dcf8d" x="347.64" y="91.30"/>
<use href="#m6dcf8d" x="348.34" y="91.30"/>
<use href="#m6dcf8d" x="349.03" y="91.30"/>
<use href="#m6dcf8d" x="351.28" y="91.30"/>
<use href="#m6dcf8d" x="351.30" y="91.30"/>
<path d="M80.60 242.00 L93.40 226.30 L103.20 216.80 L110.80 209.90 L118.00 203.80 L123.30 201.40 L128.40 198.00 L132.40 195.40 L135.70 193.00 L171.10 175.10 L181.10 174.10 L214.70 167.40 L241.00 159.70 L250.50 157.50 L258.00 156.60 L351.30 156.40" stroke="#45bbeb" stroke-width="1.25" fill="none" stroke-linejoin="round"/>
<use href="#m45bbeb" x="80.60" y="242.00"/>
<use href="#m45bbeb" x="93.40" y="226.30"/>
<use href="#m45bbeb" x="103.20" y="216.80"/>
<use href="#m45bbeb" x="110.80" y="209.90"/>
<use href="#m45bbeb" x="118.00" y="203.80"/>
<use href="#m45bbeb" x="123.30" y="201.40"/>
<use href="#m45bbeb" x="128.40" y="198.00"/>
<use href="#m45bbeb" x="132.40" y="195.40"/>
<use href="#m45bbeb" x="135.70" y="193.00"/>
<use href="#m45bbeb" x="136.00" y="192.85"/>
<use href="#m45bbeb" x="138.50" y="191.58"/>
<use href="#m45bbeb" x="141.00" y="190.32"/>
<use href="#m45bbeb" x="143.50" y="189.06"/>
<use href="#m45bbeb" x="146.00" y="187.79"/>
<use href="#m45bbeb" x="148.50" y="186.53"/>
<use href="#m45bbeb" x="151.00" y="185.26"/>
<use href="#m45bbeb" x="153.50" y="184.00"/>
<use href="#m45bbeb" x="156.00" y="182.74"/>
<use href="#m45bbeb" x="158.50" y="181.47"/>
<use href="#m45bbeb" x="161.00" y="180.21"/>
<use href="#m45bbeb" x="163.50" y="178.94"/>
<use href="#m45bbeb" x="166.00" y="177.68"/>
<use href="#m45bbeb" x="168.50" y="176.41"/>
<use href="#m45bbeb" x="171.00" y="175.15"/>
<use href="#m45bbeb" x="171.10" y="175.10"/>
<use href="#m45bbeb" x="181.10" y="174.10"/>
<use href="#m45bbeb" x="214.70" y="167.40"/>
<use href="#m45bbeb" x="241.00" y="159.70"/>
<use href="#m45bbeb" x="250.50" y="157.50"/>
<use href="#m45bbeb" x="258.00" y="156.60"/>
<use href="#m45bbeb" x="265.82" y="156.58"/>
<use href="#m45bbeb" x="275.25" y="156.56"/>
<use href="#m45bbeb" x="282.12" y="156.55"/>
<use href="#m45bbeb" x="288.22" y="156.54"/>
<use href="#m45bbeb" x="292.57" y="156.53"/>
<use href="#m45bbeb" x="297.02" y="156.52"/>
<use href="#m45bbeb" x="301.36" y="156.51"/>
<use href="#m45bbeb" x="304.88" y="156.50"/>
<use href="#m45bbeb" x="308.40" y="156.49"/>
<use href="#m45bbeb" x="311.39" y="156.49"/>
<use href="#m45bbeb" x="314.20" y="156.48"/>
<use href="#m45bbeb" x="316.72" y="156.47"/>
<use href="#m45bbeb" x="319.02" y="156.47"/>
<use href="#m45bbeb" x="321.13" y="156.46"/>
<use href="#m45bbeb" x="323.08" y="156.46"/>
<use href="#m45bbeb" x="324.89" y="156.46"/>
<use href="#m45bbeb" x="326.58" y="156.45"/>
<use href="#m45bbeb" x="328.17" y="156.45"/>
<use href="#m45bbeb" x="329.66" y="156.45"/>
<use href="#m45bbeb" x="331.07" y="156.44"/>
<use href="#m45bbeb" x="332.40" y="156.44"/>
<use href="#m45bbeb" x="333.67" y="156.44"/>
<use href="#m45bbeb" x="334.88" y="156.44"/>
<use href="#m45bbeb" x="336.04" y="156.43"/>
<use href="#m45bbeb" x="337.14" y="156.43"/>
<use href="#m45bbeb" x="338.20" y="156.43"/>
<use href="#m45bbeb" x="339.22" y="156.43"/>
<use href="#m45bbeb" x="340.20" y="156.42"/>
<use href="#m45bbeb" x="341.14" y="156.42"/>
<use href="#m45bbeb" x="342.05" y="156.42"/>
<use href="#m45bbeb" x="342.92" y="156.42"/>
<use href="#m45bbeb" x="343.77" y="156.42"/>
<use href="#m45bbeb" x="344.59" y="156.41"/>
<use href="#m45bbeb" x="345.39" y="156.41"/>
<use href="#m45bbeb" x="346.16" y="156.41"/>
<use href="#m45bbeb" x="346.91" y="156.41"/>
<use href="#m45bbeb" x="347.64" y="156.41"/>
<use href="#m45bbeb" x="348.34" y="156.41"/>
<use href="#m45bbeb" x="349.03" y="156.40"/>
<use href="#m45bbeb" x="351.28" y="156.40"/>
<use href="#m45bbeb" x="351.30" y="156.40"/>
<path d="M165.40 158.70 L219.10 156.40 L249.80 156.40 L351.30 156.40" stroke="#45bbeb" stroke-width="1.25" fill="none" stroke-linejoin="round"/>
<use href="#m45bbeb" x="165.40" y="158.70"/>
<use href="#m45bbeb" x="219.10" y="156.40"/>
<use href="#m45bbeb" x="249.80" y="156.40"/>
<use href="#m45bbeb" x="251.66" y="156.40"/>
<use href="#m45bbeb" x="257.92" y="156.40"/>
<use href="#m45bbeb" x="265.82" y="156.40"/>
<use href="#m45bbeb" x="275.25" y="156.40"/>
<use href="#m45bbeb" x="282.12" y="156.40"/>
<use href="#m45bbeb" x="288.22" y="156.40"/>
<use href="#m45bbeb" x="292.57" y="156.40"/>
<use href="#m45bbeb" x="297.02" y="156.40"/>
<use href="#m45bbeb" x="301.36" y="156.40"/>
<use href="#m45bbeb" x="304.88" y="156.40"/>
<use href="#m45bbeb" x="308.40" y="156.40"/>
<use href="#m45bbeb" x="311.39" y="156.40"/>
<use href="#m45bbeb" x="314.20" y="156.40"/>
<use href="#m45bbeb" x="316.72" y="156.40"/>
<use href="#m45bbeb" x="319.02" y="156.40"/>
<use href="#m45bbeb" x="321.13" y="156.40"/>
<use href="#m45bbeb" x="323.08" y="156.40"/>
<use href="#m45bbeb" x="324.89" y="156.40"/>
<use href="#m45bbeb" x="326.58" y="156.40"/>
<use href="#m45bbeb" x="328.17" y="156.40"/>
<use href="#m45bbeb" x="329.66" y="156.40"/>
<use href="#m45bbeb" x="331.07" y="156.40"/>
<use href="#m45bbeb" x="332.40" y="156.40"/>
<use href="#m45bbeb" x="333.67" y="156.40"/>
<use href="#m45bbeb" x="334.88" y="156.40"/>
<use href="#m45bbeb" x="336.04" y="156.40"/>
<use href="#m45bbeb" x="337.14" y="156.40"/>
<use href="#m45bbeb" x="338.20" y="156.40"/>
<use href="#m45bbeb" x="339.22" y="156.40"/>
<use href="#m45bbeb" x="340.20" y="156.40"/>
<use href="#m45bbeb" x="341.14" y="156.40"/>
<use href="#m45bbeb" x="342.05" y="156.40"/>
<use href="#m45bbeb" x="342.92" y="156.40"/>
<use href="#m45bbeb" x="343.77" y="156.40"/>
<use href="#m45bbeb" x="344.59" y="156.40"/>
<use href="#m45bbeb" x="345.39" y="156.40"/>
<use href="#m45bbeb" x="346.16" y="156.40"/>
<use href="#m45bbeb" x="346.91" y="156.40"/>
<use href="#m45bbeb" x="347.64" y="156.40"/>
<use href="#m45bbeb" x="348.34" y="156.40"/>
<use href="#m45bbeb" x="349.03" y="156.40"/>
<use href="#m45bbeb" x="351.28" y="156.40"/>
<use href="#m45bbeb" x="351.30" y="156.40"/>
<path d="M394.00 235.80 L408.00 192.10 L419.40 166.90 L427.80 155.50 L435.50 149.10 L441.30 144.20 L445.30 140.70 L448.80 138.50 L453.10 135.00 L457.10 131.50 L460.60 128.90 L463.60 126.30 L466.70 124.10 L469.30 122.80 L471.50 121.50 L473.70 119.30 L475.90 118.00 L478.10 117.10 L480.30 115.80 L482.50 114.40 L484.70 113.10 L489.90 111.20 L507.70 105.40 L530.50 95.90 L549.80 87.60 L562.90 82.60 L573.00 79.30 L580.70 75.50 L587.30 74.40 L592.60 69.80 L596.90 54.60 L600.50 43.40 L604.70 42.20 L608.80 41.40 L612.90 40.10 L617.00 38.40 L621.20 37.60 L626.10 36.40 L631.10 35.10 L636.00 33.50 L641.00 31.50 L645.90 28.50 L650.90 26.00 L655.80 24.40 L661.10 22.70" stroke="#f83c45" stroke-width="1.25" fill="none" stroke-linejoin="round"/>
<use href="#mf83c45" x="394.00" y="235.80"/>
<use href="#mf83c45" x="408.00" y="192.10"/>
<use href="#mf83c45" x="419.40" y="166.90"/>
<use href="#mf83c45" x="427.80" y="155.50"/>
<use href="#mf83c45" x="435.50" y="149.10"/>
<use href="#mf83c45" x="441.30" y="144.20"/>
<use href="#mf83c45" x="445.30" y="140.70"/>
<use href="#mf83c45" x="448.80" y="138.50"/>
<use href="#mf83c45" x="453.10" y="135.00"/>
<use href="#mf83c45" x="457.10" y="131.50"/>
<use href="#mf83c45" x="460.60" y="128.90"/>
<use href="#mf83c45" x="463.60" y="126.30"/>
<use href="#mf83c45" x="466.70" y="124.10"/>
<use href="#mf83c45" x="469.30" y="122.80"/>
<use href="#mf83c45" x="471.50" y="121.50"/>
<use href="#mf83c45" x="473.70" y="119.30"/>
<use href="#mf83c45" x="475.90" y="118.00"/>
<use href="#mf83c45" x="478.10" y="117.10"/>
<use href="#mf83c45" x="480.30" y="115.80"/>
<use href="#mf83c45" x="482.50" y="114.40"/>
<use href="#mf83c45" x="484.70" y="113.10"/>
<use href="#mf83c45" x="489.90" y="111.20"/>
<use href="#mf83c45" x="507.70" y="105.40"/>
<use href="#mf83c45" x="530.50" y="95.90"/>
<use href="#mf83c45" x="549.80" y="87.60"/>
<use href="#mf83c45" x="562.90" y="82.60"/>
<use href="#mf83c45" x="573.00" y="79.30"/>
<use href="#mf83c45" x="580.70" y="75.50"/>
<use href="#mf83c45" x="587.30" y="74.40"/>
<use href="#mf83c45" x="592.60" y="69.80"/>
<use href="#mf83c45" x="596.90" y="54.60"/>
<use href="#mf83c45" x="600.50" y="43.40"/>
<use href="#mf83c45" x="604.70" y="42.20"/>
<use href="#mf83c45" x="608.80" y="41.40"/>
<use href="#mf83c45" x="612.90" y="40.10"/>
<use href="#mf83c45" x="617.00" y="38.40"/>
<use href="#mf83c45" x="621.20" y="37.60"/>
<use href="#mf83c45" x="626.10" y="36.40"/>
<use href="#mf83c45" x="626.78" y="36.22"/>
<use href="#mf83c45" x="629.07" y="35.63"/>
<use href="#mf83c45" x="631.10" y="35.10"/>
<use href="#mf83c45" x="631.16" y="35.08"/>
<use href="#mf83c45" x="633.10" y="34.45"/>
<use href="#mf83c45" x="634.90" y="33.86"/>
<use href="#mf83c45" x="636.00" y="33.50"/>
<use href="#mf83c45" x="636.58" y="33.27"/>
<use href="#mf83c45" x="638.15" y="32.64"/>
<use href="#mf83c45" x="639.64" y="32.05"/>
<use href="#mf83c45" x="641.00" y="31.50"/>
<use href="#mf83c45" x="641.04" y="31.48"/>
<use href="#mf83c45" x="642.37" y="30.66"/>
<use href="#mf83c45" x="643.63" y="29.89"/>
<use href="#mf83c45" x="644.83" y="29.15"/>
<use href="#mf83c45" x="645.90" y="28.50"/>
<use href="#mf83c45" x="645.98" y="28.46"/>
<use href="#mf83c45" x="647.08" y="27.91"/>
<use href="#mf83c45" x="648.13" y="27.38"/>
<use href="#mf83c45" x="649.14" y="26.88"/>
<use href="#mf83c45" x="650.11" y="26.39"/>
<use href="#mf83c45" x="650.90" y="26.00"/>
<use href="#mf83c45" x="651.05" y="25.95"/>
<use href="#mf83c45" x="651.95" y="25.66"/>
<use href="#mf83c45" x="652.82" y="25.37"/>
<use href="#mf83c45" x="653.67" y="25.10"/>
<use href="#mf83c45" x="654.48" y="24.83"/>
<use href="#mf83c45" x="655.27" y="24.57"/>
<use href="#mf83c45" x="655.80" y="24.40"/>
<use href="#mf83c45" x="656.04" y="24.32"/>
<use href="#mf83c45" x="656.79" y="24.08"/>
<use href="#mf83c45" x="657.51" y="23.85"/>
<use href="#mf83c45" x="658.21" y="23.63"/>
<use href="#mf83c45" x="658.89" y="23.41"/>
<use href="#mf83c45" x="661.10" y="22.70"/>
<path d="M474.30 40.90 L485.80 37.50 L504.10 34.90 L530.50 31.50 L553.00 28.90 L566.70 27.90 L576.00 27.90 L583.50 28.00 L589.50 27.20 L594.80 27.20 L598.90 26.90 L603.00 26.00 L610.00 25.60 L617.90 25.20 L622.80 22.70 L661.10 22.70" stroke="#f83c45" stroke-width="1.25" fill="none" stroke-linejoin="round"/>
<use href="#mf83c45" x="474.30" y="40.90"/>
<use href="#mf83c45" x="485.80" y="37.50"/>
<use href="#mf83c45" x="504.10" y="34.90"/>
<use href="#mf83c45" x="530.50" y="31.50"/>
<use href="#mf83c45" x="553.00" y="28.90"/>
<use href="#mf83c45" x="566.70" y="27.90"/>
<use href="#mf83c45" x="576.00" y="27.90"/>
<use href="#mf83c45" x="583.50" y="28.00"/>
<use href="#mf83c45" x="589.50" y="27.20"/>
<use href="#mf83c45" x="594.80" y="27.20"/>
<use href="#mf83c45" x="598.90" y="26.90"/>
<use href="#mf83c45" x="602.77" y="26.05"/>
<use href="#mf83c45" x="603.00" y="26.00"/>
<use href="#mf83c45" x="607.20" y="25.76"/>
<use href="#mf83c45" x="610.00" y="25.60"/>
<use href="#mf83c45" x="611.50" y="25.52"/>
<use href="#mf83c45" x="615.01" y="25.35"/>
<use href="#mf83c45" x="617.90" y="25.20"/>
<use href="#mf83c45" x="618.50" y="24.89"/>
<use href="#mf83c45" x="621.48" y="23.37"/>
<use href="#mf83c45" x="622.80" y="22.70"/>
<use href="#mf83c45" x="624.27" y="22.70"/>
<use href="#mf83c45" x="626.78" y="22.70"/>
<use href="#mf83c45" x="629.07" y="22.70"/>
<use href="#mf83c45" x="631.16" y="22.70"/>
<use href="#mf83c45" x="633.10" y="22.70"/>
<use href="#mf83c45" x="634.90" y="22.70"/>
<use href="#mf83c45" x="636.58" y="22.70"/>
<use href="#mf83c45" x="638.15" y="22.70"/>
<use href="#mf83c45" x="639.64" y="22.70"/>
<use href="#mf83c45" x="641.04" y="22.70"/>
<use href="#mf83c45" x="642.37" y="22.70"/>
<use href="#mf83c45" x="643.63" y="22.70"/>
<use href="#mf83c45" x="644.83" y="22.70"/>
<use href="#mf83c45" x="645.98" y="22.70"/>
<use href="#mf83c45" x="647.08" y="22.70"/>
<use href="#mf83c45" x="648.13" y="22.70"/>
<use href="#mf83c45" x="649.14" y="22.70"/>
<use href="#mf83c45" x="650.11" y="22.70"/>
<use href="#mf83c45" x="651.05" y="22.70"/>
<use href="#mf83c45" x="651.95" y="22.70"/>
<use href="#mf83c45" x="652.82" y="22.70"/>
<use href="#mf83c45" x="653.67" y="22.70"/>
<use href="#mf83c45" x="654.48" y="22.70"/>
<use href="#mf83c45" x="655.27" y="22.70"/>
<use href="#mf83c45" x="656.04" y="22.70"/>
<use href="#mf83c45" x="656.79" y="22.70"/>
<use href="#mf83c45" x="657.51" y="22.70"/>
<use href="#mf83c45" x="658.21" y="22.70"/>
<use href="#mf83c45" x="658.89" y="22.70"/>
<use href="#mf83c45" x="661.10" y="22.70"/>
<path d="M394.00 242.70 L406.90 222.20 L416.60 209.30 L424.00 202.00 L431.00 196.00 L437.00 191.50 L443.00 186.50 L449.00 183.00 L455.60 180.00 L462.00 177.50 L468.00 175.50 L474.00 174.00 L479.50 172.50 L483.80 171.30 L502.90 165.10 L558.00 151.50 L571.70 150.70 L581.50 150.10 L588.70 150.10 L595.90 149.80 L610.00 149.20 L620.00 148.80 L631.80 148.00 L640.80 146.50 L653.40 144.40 L661.10 144.40" stroke="#6a97d0" stroke-width="1.25" fill="none" stroke-linejoin="round"/>
<use href="#m6a97d0" x="394.00" y="242.70"/>
<use href="#m6a97d0" x="406.90" y="222.20"/>
<use href="#m6a97d0" x="416.60" y="209.30"/>
<use href="#m6a97d0" x="424.00" y="202.00"/>
<use href="#m6a97d0" x="431.00" y="196.00"/>
<use href="#m6a97d0" x="437.00" y="191.50"/>
<use href="#m6a97d0" x="443.00" y="186.50"/>
<use href="#m6a97d0" x="449.00" y="183.00"/>
<use href="#m6a97d0" x="455.60" y="180.00"/>
<use href="#m6a97d0" x="462.00" y="177.50"/>
<use href="#m6a97d0" x="468.00" y="175.50"/>
<use href="#m6a97d0" x="474.00" y="174.00"/>
<use href="#m6a97d0" x="479.50" y="172.50"/>
<use href="#m6a97d0" x="483.80" y="171.30"/>
<use href="#m6a97d0" x="502.90" y="165.10"/>
<use href="#m6a97d0" x="558.00" y="151.50"/>
<use href="#m6a97d0" x="562.11" y="151.26"/>
<use href="#m6a97d0" x="568.33" y="150.90"/>
<use href="#m6a97d0" x="571.70" y="150.70"/>
<use href="#m6a97d0" x="576.18" y="150.43"/>
<use href="#m6a97d0" x="581.50" y="150.10"/>
<use href="#m6a97d0" x="585.56" y="150.10"/>
<use href="#m6a97d0" x="588.70" y="150.10"/>
<use href="#m6a97d0" x="592.39" y="149.95"/>
<use href="#m6a97d0" x="595.90" y="149.80"/>
<use href="#m6a97d0" x="598.45" y="149.69"/>
<use href="#m6a97d0" x="602.77" y="149.51"/>
<use href="#m6a97d0" x="607.20" y="149.32"/>
<use href="#m6a97d0" x="610.00" y="149.20"/>
<use href="#m6a97d0" x="611.50" y="149.14"/>
<use href="#m6a97d0" x="615.01" y="149.00"/>
<use href="#m6a97d0" x="618.50" y="148.86"/>
<use href="#m6a97d0" x="620.00" y="148.80"/>
<use href="#m6a97d0" x="621.48" y="148.70"/>
<use href="#m6a97d0" x="624.27" y="148.51"/>
<use href="#m6a97d0" x="626.78" y="148.34"/>
<use href="#m6a97d0" x="629.07" y="148.19"/>
<use href="#m6a97d0" x="631.16" y="148.04"/>
<use href="#m6a97d0" x="631.80" y="148.00"/>
<use href="#m6a97d0" x="633.10" y="147.78"/>
<use href="#m6a97d0" x="634.90" y="147.48"/>
<use href="#m6a97d0" x="636.58" y="147.20"/>
<use href="#m6a97d0" x="638.15" y="146.94"/>
<use href="#m6a97d0" x="639.64" y="146.69"/>
<use href="#m6a97d0" x="640.80" y="146.50"/>
<use href="#m6a97d0" x="641.04" y="146.46"/>
<use href="#m6a97d0" x="642.37" y="146.24"/>
<use href="#m6a97d0" x="643.63" y="146.03"/>
<use href="#m6a97d0" x="644.83" y="145.83"/>
<use href="#m6a97d0" x="645.98" y="145.64"/>
<use href="#m6a97d0" x="647.08" y="145.45"/>
<use href="#m6a97d0" x="648.13" y="145.28"/>
<use href="#m6a97d0" x="649.14" y="145.11"/>
<use href="#m6a97d0" x="650.11" y="144.95"/>
<use href="#m6a97d0" x="651.05" y="144.79"/>
<use href="#m6a97d0" x="651.95" y="144.64"/>
<use href="#m6a97d0" x="652.82" y="144.50"/>
<use href="#m6a97d0" x="653.40" y="144.40"/>
<use href="#m6a97d0" x="653.67" y="144.40"/>
<use href="#m6a97d0" x="654.48" y="144.40"/>
<use href="#m6a97d0" x="655.27" y="144.40"/>
<use href="#m6a97d0" x="656.04" y="144.40"/>
<use href="#m6a97d0" x="656.79" y="144.40"/>
<use href="#m6a97d0" x="657.51" y="144.40"/>
<use href="#m6a97d0" x="658.21" y="144.40"/>
<use href="#m6a97d0" x="658.89" y="144.40"/>
<use href="#m6a97d0" x="661.10" y="144.40"/>
<path d="M488.60 144.70 L536.60 145.10 L661.10 144.60" stroke="#6a97d0" stroke-width="1.25" fill="none" stroke-linejoin="round"/>
<use href="#m6a97d0" x="488.60" y="144.70"/>
<use href="#m6a97d0" x="536.60" y="145.10"/>
<use href="#m6a97d0" x="562.11" y="145.00"/>
<use href="#m6a97d0" x="568.33" y="144.97"/>
<use href="#m6a97d0" x="576.18" y="144.94"/>
<use href="#m6a97d0" x="585.56" y="144.90"/>
<use href="#m6a97d0" x="592.39" y="144.88"/>
<use href="#m6a97d0" x="598.45" y="144.85"/>
<use href="#m6a97d0" x="602.77" y="144.83"/>
<use href="#m6a97d0" x="607.20" y="144.82"/>
<use href="#m6a97d0" x="611.50" y="144.80"/>
<use href="#m6a97d0" x="615.01" y="144.79"/>
<use href="#m6a97d0" x="618.50" y="144.77"/>
<use href="#m6a97d0" x="621.48" y="144.76"/>
<use href="#m6a97d0" x="624.27" y="144.75"/>
<use href="#m6a97d0" x="626.78" y="144.74"/>
<use href="#m6a97d0" x="629.07" y="144.73"/>
<use href="#m6a97d0" x="631.16" y="144.72"/>
<use href="#m6a97d0" x="633.10" y="144.71"/>
<use href="#m6a97d0" x="634.90" y="144.71"/>
<use href="#m6a97d0" x="636.58" y="144.70"/>
<use href="#m6a97d0" x="638.15" y="144.69"/>
<use href="#m6a97d0" x="639.64" y="144.69"/>
<use href="#m6a97d0" x="641.04" y="144.68"/>
<use href="#m6a97d0" x="642.37" y="144.68"/>
<use href="#m6a97d0" x="643.63" y="144.67"/>
<use href="#m6a97d0" x="644.83" y="144.67"/>
<use href="#m6a97d0" x="645.98" y="144.66"/>
<use href="#m6a97d0" x="647.08" y="144.66"/>
<use href="#m6a97d0" x="648.13" y="144.65"/>
<use href="#m6a97d0" x="649.14" y="144.65"/>
<use href="#m6a97d0" x="650.11" y="144.64"/>
<use href="#m6a97d0" x="651.05" y="144.64"/>
<use href="#m6a97d0" x="651.95" y="144.64"/>
<use href="#m6a97d0" x="652.82" y="144.63"/>
<use href="#m6a97d0" x="653.67" y="144.63"/>
<use href="#m6a97d0" x="654.48" y="144.63"/>
<use href="#m6a97d0" x="655.27" y="144.62"/>
<use href="#m6a97d0" x="656.04" y="144.62"/>
<use href="#m6a97d0" x="656.79" y="144.62"/>
<use href="#m6a97d0" x="657.51" y="144.61"/>
<use href="#m6a97d0" x="658.21" y="144.61"/>
<use href="#m6a97d0" x="658.89" y="144.61"/>
<use href="#m6a97d0" x="661.10" y="144.60"/>
<path d="M393.00 242.50 L405.30 218.90 L415.20 204.30 L423.80 195.70 L429.80 189.70 L436.00 186.00 L442.00 183.00 L448.00 180.20 L455.00 177.50 L462.00 175.00 L468.00 172.50 L474.00 170.20 L480.00 168.00 L483.80 166.50 L490.10 165.10 L521.40 161.60 L535.50 157.10 L548.70 157.90 L566.40 156.80 L661.10 156.80" stroke="#fccb46" stroke-width="1.25" fill="none" stroke-linejoin="round"/>
<use href="#mfccb46" x="393.00" y="242.50"/>
<use href="#mfccb46" x="405.30" y="218.90"/>
<use href="#mfccb46" x="415.20" y="204.30"/>
<use href="#mfccb46" x="423.80" y="195.70"/>
<use href="#mfccb46" x="429.80" y="189.70"/>
<use href="#mfccb46" x="436.00" y="186.00"/>
<use href="#mfccb46" x="442.00" y="183.00"/>
<use href="#mfccb46" x="448.00" y="180.20"/>
<use href="#mfccb46" x="455.00" y="177.50"/>
<use href="#mfccb46" x="462.00" y="175.00"/>
<use href="#mfccb46" x="468.00" y="172.50"/>
<use href="#mfccb46" x="474.00" y="170.20"/>
<use href="#mfccb46" x="480.00" y="168.00"/>
<use href="#mfccb46" x="483.80" y="166.50"/>
<use href="#mfccb46" x="490.10" y="165.10"/>
<use href="#mfccb46" x="521.40" y="161.60"/>
<use href="#mfccb46" x="535.50" y="157.10"/>
<use href="#mfccb46" x="548.70" y="157.90"/>
<use href="#mfccb46" x="566.40" y="156.80"/>
<use href="#mfccb46" x="568.33" y="156.80"/>
<use href="#mfccb46" x="576.18" y="156.80"/>
<use href="#mfccb46" x="585.56" y="156.80"/>
<use href="#mfccb46" x="592.39" y="156.80"/>
<use href="#mfccb46" x="598.45" y="156.80"/>
<use href="#mfccb46" x="602.77" y="156.80"/>
<use href="#mfccb46" x="607.20" y="156.80"/>
<use href="#mfccb46" x="611.50" y="156.80"/>
<use href="#mfccb46" x="615.01" y="156.80"/>
<use href="#mfccb46" x="618.50" y="156.80"/>
<use href="#mfccb46" x="621.48" y="156.80"/>
<use href="#mfccb46" x="624.27" y="156.80"/>
<use href="#mfccb46" x="626.78" y="156.80"/>
<use href="#mfccb46" x="629.07" y="156.80"/>
<use href="#mfccb46" x="631.16" y="156.80"/>
<use href="#mfccb46" x="633.10" y="156.80"/>
<use href="#mfccb46" x="634.90" y="156.80"/>
<use href="#mfccb46" x="636.58" y="156.80"/>
<use href="#mfccb46" x="638.15" y="156.80"/>
<use href="#mfccb46" x="639.64" y="156.80"/>
<use href="#mfccb46" x="641.04" y="156.80"/>
<use href="#mfccb46" x="642.37" y="156.80"/>
<use href="#mfccb46" x="643.63" y="156.80"/>
<use href="#mfccb46" x="644.83" y="156.80"/>
<use href="#mfccb46" x="645.98" y="156.80"/>
<use href="#mfccb46" x="647.08" y="156.80"/>
<use href="#mfccb46" x="648.13" y="156.80"/>
<use href="#mfccb46" x="649.14" y="156.80"/>
<use href="#mfccb46" x="650.11" y="156.80"/>
<use href="#mfccb46" x="651.05" y="156.80"/>
<use href="#mfccb46" x="651.95" y="156.80"/>
<use href="#mfccb46" x="652.82" y="156.80"/>
<use href="#mfccb46" x="653.67" y="156.80"/>
<use href="#mfccb46" x="654.48" y="156.80"/>
<use href="#mfccb46" x="655.27" y="156.80"/>
<use href="#mfccb46" x="656.04" y="156.80"/>
<use href="#mfccb46" x="656.79" y="156.80"/>
<use href="#mfccb46" x="657.51" y="156.80"/>
<use href="#mfccb46" x="658.21" y="156.80"/>
<use href="#mfccb46" x="658.89" y="156.80"/>
<use href="#mfccb46" x="661.10" y="156.80"/>
<path d="M482.90 156.40 L535.00 156.60 L661.10 156.80" stroke="#fccb46" stroke-width="1.25" fill="none" stroke-linejoin="round"/>
<use href="#mfccb46" x="482.90" y="156.40"/>
<use href="#mfccb46" x="535.00" y="156.60"/>
<use href="#mfccb46" x="562.11" y="156.64"/>
<use href="#mfccb46" x="568.33" y="156.65"/>
<use href="#mfccb46" x="576.18" y="156.67"/>
<use href="#mfccb46" x="585.56" y="156.68"/>
<use href="#mfccb46" x="592.39" y="156.69"/>
<use href="#mfccb46" x="598.45" y="156.70"/>
<use href="#mfccb46" x="602.77" y="156.71"/>
<use href="#mfccb46" x="607.20" y="156.71"/>
<use href="#mfccb46" x="611.50" y="156.72"/>
<use href="#mfccb46" x="615.01" y="156.73"/>
<use href="#mfccb46" x="618.50" y="156.73"/>
<use href="#mfccb46" x="621.48" y="156.74"/>
<use href="#mfccb46" x="624.27" y="156.74"/>
<use href="#mfccb46" x="626.78" y="156.75"/>
<use href="#mfccb46" x="629.07" y="156.75"/>
<use href="#mfccb46" x="631.16" y="156.75"/>
<use href="#mfccb46" x="633.10" y="156.76"/>
<use href="#mfccb46" x="634.90" y="156.76"/>
<use href="#mfccb46" x="636.58" y="156.76"/>
<use href="#mfccb46" x="638.15" y="156.76"/>
<use href="#mfccb46" x="639.64" y="156.77"/>
<use href="#mfccb46" x="641.04" y="156.77"/>
<use href="#mfccb46" x="642.37" y="156.77"/>
<use href="#mfccb46" x="643.63" y="156.77"/>
<use href="#mfccb46" x="644.83" y="156.77"/>
<use href="#mfccb46" x="645.98" y="156.78"/>
<use href="#mfccb46" x="647.08" y="156.78"/>
<use href="#mfccb46" x="648.13" y="156.78"/>
<use href="#mfccb46" x="649.14" y="156.78"/>
<use href="#mfccb46" x="650.11" y="156.78"/>
<use href="#mfccb46" x="651.05" y="156.78"/>
<use href="#mfccb46" x="651.95" y="156.79"/>
<use href="#mfccb46" x="652.82" y="156.79"/>
<use href="#mfccb46" x="653.67" y="156.79"/>
<use href="#mfccb46" x="654.48" y="156.79"/>
<use href="#mfccb46" x="655.27" y="156.79"/>
<use href="#mfccb46" x="656.04" y="156.79"/>
<use href="#mfccb46" x="656.79" y="156.79"/>
<use href="#mfccb46" x="657.51" y="156.79"/>
<use href="#mfccb46" x="658.21" y="156.80"/>
<use href="#mfccb46" x="658.89" y="156.80"/>
<use href="#mfccb46" x="661.10" y="156.80"/>
<path d="M391.80 243.10 L406.30 219.40 L417.20 208.30 L423.80 201.70 L430.50 196.60 L435.50 193.40 L439.70 191.70 L442.20 189.70 L446.10 187.00 L449.60 186.90 L453.10 185.70 L456.20 183.50 L461.00 182.20 L464.10 180.90 L467.10 180.00 L470.60 179.20 L474.20 177.80 L477.70 176.50 L481.20 175.20 L484.70 175.20 L497.60 174.10 L529.10 171.30 L539.00 169.60 L551.90 169.40 L661.10 169.40" stroke="#6dcf8d" stroke-width="1.25" fill="none" stroke-linejoin="round"/>
<use href="#m6dcf8d" x="391.80" y="243.10"/>
<use href="#m6dcf8d" x="406.30" y="219.40"/>
<use href="#m6dcf8d" x="417.20" y="208.30"/>
<use href="#m6dcf8d" x="423.80" y="201.70"/>
<use href="#m6dcf8d" x="430.50" y="196.60"/>
<use href="#m6dcf8d" x="435.50" y="193.40"/>
<use href="#m6dcf8d" x="439.70" y="191.70"/>
<use href="#m6dcf8d" x="442.20" y="189.70"/>
<use href="#m6dcf8d" x="446.10" y="187.00"/>
<use href="#m6dcf8d" x="449.60" y="186.90"/>
<use href="#m6dcf8d" x="453.10" y="185.70"/>
<use href="#m6dcf8d" x="456.20" y="183.50"/>
<use href="#m6dcf8d" x="461.00" y="182.20"/>
<use href="#m6dcf8d" x="464.10" y="180.90"/>
<use href="#m6dcf8d" x="467.10" y="180.00"/>
<use href="#m6dcf8d" x="470.60" y="179.20"/>
<use href="#m6dcf8d" x="474.20" y="177.80"/>
<use href="#m6dcf8d" x="477.70" y="176.50"/>
<use href="#m6dcf8d" x="481.20" y="175.20"/>
<use href="#m6dcf8d" x="484.70" y="175.20"/>
<use href="#m6dcf8d" x="497.60" y="174.10"/>
<use href="#m6dcf8d" x="529.10" y="171.30"/>
<use href="#m6dcf8d" x="539.00" y="169.60"/>
<use href="#m6dcf8d" x="551.90" y="169.40"/>
<use href="#m6dcf8d" x="562.11" y="169.40"/>
<use href="#m6dcf8d" x="568.33" y="169.40"/>
<use href="#m6dcf8d" x="576.18" y="169.40"/>
<use href="#m6dcf8d" x="585.56" y="169.40"/>
<use href="#m6dcf8d" x="592.39" y="169.40"/>
<use href="#m6dcf8d" x="598.45" y="169.40"/>
<use href="#m6dcf8d" x="602.77" y="169.40"/>
<use href="#m6dcf8d" x="607.20" y="169.40"/>
<use href="#m6dcf8d" x="611.50" y="169.40"/>
<use href="#m6dcf8d" x="615.01" y="169.40"/>
<use href="#m6dcf8d" x="618.50" y="169.40"/>
<use href="#m6dcf8d" x="621.48" y="169.40"/>
<use href="#m6dcf8d" x="624.27" y="169.40"/>
<use href="#m6dcf8d" x="626.78" y="169.40"/>
<use href="#m6dcf8d" x="629.07" y="169.40"/>
<use href="#m6dcf8d" x="631.16" y="169.40"/>
<use href="#m6dcf8d" x="633.10" y="169.40"/>
<use href="#m6dcf8d" x="634.90" y="169.40"/>
<use href="#m6dcf8d" x="636.58" y="169.40"/>
<use href="#m6dcf8d" x="638.15" y="169.40"/>
<use href="#m6dcf8d" x="639.64" y="169.40"/>
<use href="#m6dcf8d" x="641.04" y="169.40"/>
<use href="#m6dcf8d" x="642.37" y="169.40"/>
<use href="#m6dcf8d" x="643.63" y="169.40"/>
<use href="#m6dcf8d" x="644.83" y="169.40"/>
<use href="#m6dcf8d" x="645.98" y="169.40"/>
<use href="#m6dcf8d" x="647.08" y="169.40"/>
<use href="#m6dcf8d" x="648.13" y="169.40"/>
<use href="#m6dcf8d" x="649.14" y="169.40"/>
<use href="#m6dcf8d" x="650.11" y="169.40"/>
<use href="#m6dcf8d" x="651.05" y="169.40"/>
<use href="#m6dcf8d" x="651.95" y="169.40"/>
<use href="#m6dcf8d" x="652.82" y="169.40"/>
<use href="#m6dcf8d" x="653.67" y="169.40"/>
<use href="#m6dcf8d" x="654.48" y="169.40"/>
<use href="#m6dcf8d" x="655.27" y="169.40"/>
<use href="#m6dcf8d" x="656.04" y="169.40"/>
<use href="#m6dcf8d" x="656.79" y="169.40"/>
<use href="#m6dcf8d" x="657.51" y="169.40"/>
<use href="#m6dcf8d" x="658.21" y="169.40"/>
<use href="#m6dcf8d" x="658.89" y="169.40"/>
<use href="#m6dcf8d" x="661.10" y="169.40"/>
<path d="M494.30 169.80 L539.00 169.30 L661.10 169.40" stroke="#6dcf8d" stroke-width="1.25" fill="none" stroke-linejoin="round"/>
<use href="#m6dcf8d" x="494.30" y="169.80"/>
<use href="#m6dcf8d" x="539.00" y="169.30"/>
<use href="#m6dcf8d" x="562.11" y="169.32"/>
<use href="#m6dcf8d" x="568.33" y="169.32"/>
<use href="#m6dcf8d" x="576.18" y="169.33"/>
<use href="#m6dcf8d" x="585.56" y="169.34"/>
<use href="#m6dcf8d" x="592.39" y="169.34"/>
<use href="#m6dcf8d" x="598.45" y="169.35"/>
<use href="#m6dcf8d" x="602.77" y="169.35"/>
<use href="#m6dcf8d" x="607.20" y="169.36"/>
<use href="#m6dcf8d" x="611.50" y="169.36"/>
<use href="#m6dcf8d" x="615.01" y="169.36"/>
<use href="#m6dcf8d" x="618.50" y="169.37"/>
<use href="#m6dcf8d" x="621.48" y="169.37"/>
<use href="#m6dcf8d" x="624.27" y="169.37"/>
<use href="#m6dcf8d" x="626.78" y="169.37"/>
<use href="#m6dcf8d" x="629.07" y="169.37"/>
<use href="#m6dcf8d" x="631.16" y="169.38"/>
<use href="#m6dcf8d" x="633.10" y="169.38"/>
<use href="#m6dcf8d" x="634.90" y="169.38"/>
<use href="#m6dcf8d" x="636.58" y="169.38"/>
<use href="#m6dcf8d" x="638.15" y="169.38"/>
<use href="#m6dcf8d" x="639.64" y="169.38"/>
<use href="#m6dcf8d" x="641.04" y="169.38"/>
<use href="#m6dcf8d" x="642.37" y="169.38"/>
<use href="#m6dcf8d" x="643.63" y="169.39"/>
<use href="#m6dcf8d" x="644.83" y="169.39"/>
<use href="#m6dcf8d" x="645.98" y="169.39"/>
<use href="#m6dcf8d" x="647.08" y="169.39"/>
<use href="#m6dcf8d" x="648.13" y="169.39"/>
<use href="#m6dcf8d" x="649.14" y="169.39"/>
<use href="#m6dcf8d" x="650.11" y="169.39"/>
<use href="#m6dcf8d" x="651.05" y="169.39"/>
<use href="#m6dcf8d" x="651.95" y="169.39"/>
<use href="#m6dcf8d" x="652.82" y="169.39"/>
<use href="#m6dcf8d" x="653.67" y="169.39"/>
<use href="#m6dcf8d" x="654.48" y="169.39"/>
<use href="#m6dcf8d" x="655.27" y="169.40"/>
<use href="#m6dcf8d" x="656.04" y="169.40"/>
<use href="#m6dcf8d" x="656.79" y="169.40"/>
<use href="#m6dcf8d" x="657.51" y="169.40"/>
<use href="#m6dcf8d" x="658.21" y="169.40"/>
<use href="#m6dcf8d" x="658.89" y="169.40"/>
<use href="#m6dcf8d" x="661.10" y="169.40"/>
<path d="M394.30 241.90 L408.00 221.20 L411.90 213.60 L421.20 198.30 L428.50 192.10 L435.10 187.70 L440.90 183.50 L445.30 179.90 L448.80 180.00 L452.70 178.70 L455.80 176.10 L458.80 173.90 L461.90 172.60 L465.00 170.40 L468.00 168.60 L471.10 167.30 L474.20 166.00 L477.20 164.70 L480.30 163.00 L483.30 162.50 L488.20 161.60 L516.90 157.90 L543.90 150.70 L561.50 146.70 L573.60 145.10 L585.00 143.00 L595.00 142.40 L661.10 142.40" stroke="#45bbeb" stroke-width="1.25" fill="none" stroke-linejoin="round"/>
<use href="#m45bbeb" x="394.30" y="241.90"/>
<use href="#m45bbeb" x="408.00" y="221.20"/>
<use href="#m45bbeb" x="411.90" y="213.60"/>
<use href="#m45bbeb" x="421.20" y="198.30"/>
<use href="#m45bbeb" x="428.50" y="192.10"/>
<use href="#m45bbeb" x="435.10" y="187.70"/>
<use href="#m45bbeb" x="440.90" y="183.50"/>
<use href="#m45bbeb" x="445.30" y="179.90"/>
<use href="#m45bbeb" x="448.80" y="180.00"/>
<use href="#m45bbeb" x="452.70" y="178.70"/>
<use href="#m45bbeb" x="455.80" y="176.10"/>
<use href="#m45bbeb" x="458.80" y="173.90"/>
<use href="#m45bbeb" x="461.90" y="172.60"/>
<use href="#m45bbeb" x="465.00" y="170.40"/>
<use href="#m45bbeb" x="468.00" y="168.60"/>
<use href="#m45bbeb" x="471.10" y="167.30"/>
<use href="#m45bbeb" x="474.20" y="166.00"/>
<use href="#m45bbeb" x="477.20" y="164.70"/>
<use href="#m45bbeb" x="480.30" y="163.00"/>
<use href="#m45bbeb" x="483.30" y="162.50"/>
<use href="#m45bbeb" x="488.20" y="161.60"/>
<use href="#m45bbeb" x="516.90" y="157.90"/>
<use href="#m45bbeb" x="543.90" y="150.70"/>
<use href="#m45bbeb" x="561.50" y="146.70"/>
<use href="#m45bbeb" x="573.60" y="145.10"/>
<use href="#m45bbeb" x="585.00" y="143.00"/>
<use href="#m45bbeb" x="595.00" y="142.40"/>
<use href="#m45bbeb" x="598.45" y="142.40"/>
<use href="#m45bbeb" x="602.77" y="142.40"/>
<use href="#m45bbeb" x="607.20" y="142.40"/>
<use href="#m45bbeb" x="611.50" y="142.40"/>
<use href="#m45bbeb" x="615.01" y="142.40"/>
<use href="#m45bbeb" x="618.50" y="142.40"/>
<use href="#m45bbeb" x="621.48" y="142.40"/>
<use href="#m45bbeb" x="624.27" y="142.40"/>
<use href="#m45bbeb" x="626.78" y="142.40"/>
<use href="#m45bbeb" x="629.07" y="142.40"/>
<use href="#m45bbeb" x="631.16" y="142.40"/>
<use href="#m45bbeb" x="633.10" y="142.40"/>
<use href="#m45bbeb" x="634.90" y="142.40"/>
<use href="#m45bbeb" x="636.58" y="142.40"/>
<use href="#m45bbeb" x="638.15" y="142.40"/>
<use href="#m45bbeb" x="639.64" y="142.40"/>
<use href="#m45bbeb" x="641.04" y="142.40"/>
<use href="#m45bbeb" x="642.37" y="142.40"/>
<use href="#m45bbeb" x="643.63" y="142.40"/>
<use href="#m45bbeb" x="644.83" y="142.40"/>
<use href="#m45bbeb" x="645.98" y="142.40"/>
<use href="#m45bbeb" x="647.08" y="142.40"/>
<use href="#m45bbeb" x="648.13" y="142.40"/>
<use href="#m45bbeb" x="649.14" y="142.40"/>
<use href="#m45bbeb" x="650.11" y="142.40"/>
<use href="#m45bbeb" x="651.05" y="142.40"/>
<use href="#m45bbeb" x="651.95" y="142.40"/>
<use href="#m45bbeb" x="652.82" y="142.40"/>
<use href="#m45bbeb" x="653.67" y="142.40"/>
<use href="#m45bbeb" x="654.48" y="142.40"/>
<use href="#m45bbeb" x="655.27" y="142.40"/>
<use href="#m45bbeb" x="656.04" y="142.40"/>
<use href="#m45bbeb" x="656.79" y="142.40"/>
<use href="#m45bbeb" x="657.51" y="142.40"/>
<use href="#m45bbeb" x="658.21" y="142.40"/>
<use href="#m45bbeb" x="658.89" y="142.40"/>
<use href="#m45bbeb" x="661.10" y="142.40"/>
<path d="M494.40 142.20 L540.30 142.20 L562.80 142.20 L576.00 142.20 L661.10 142.40" stroke="#45bbeb" stroke-width="1.25" fill="none" stroke-linejoin="round"/>
<use href="#m45bbeb" x="494.40" y="142.20"/>
<use href="#m45bbeb" x="540.30" y="142.20"/>
<use href="#m45bbeb" x="562.80" y="142.20"/>
<use href="#m45bbeb" x="576.00" y="142.20"/>
<use href="#m45bbeb" x="585.56" y="142.22"/>
<use href="#m45bbeb" x="592.39" y="142.24"/>
<use href="#m45bbeb" x="598.45" y="142.25"/>
<use href="#m45bbeb" x="602.77" y="142.26"/>
<use href="#m45bbeb" x="607.20" y="142.27"/>
<use href="#m45bbeb" x="611.50" y="142.28"/>
<use href="#m45bbeb" x="615.01" y="142.29"/>
<use href="#m45bbeb" x="618.50" y="142.30"/>
<use href="#m45bbeb" x="621.48" y="142.31"/>
<use href="#m45bbeb" x="624.27" y="142.31"/>
<use href="#m45bbeb" x="626.78" y="142.32"/>
<use href="#m45bbeb" x="629.07" y="142.32"/>
<use href="#m45bbeb" x="631.16" y="142.33"/>
<use href="#m45bbeb" x="633.10" y="142.33"/>
<use href="#m45bbeb" x="634.90" y="142.34"/>
<use href="#m45bbeb" x="636.58" y="142.34"/>
<use href="#m45bbeb" x="638.15" y="142.35"/>
<use href="#m45bbeb" x="639.64" y="142.35"/>
<use href="#m45bbeb" x="641.04" y="142.35"/>
<use href="#m45bbeb" x="642.37" y="142.36"/>
<use href="#m45bbeb" x="643.63" y="142.36"/>
<use href="#m45bbeb" x="644.83" y="142.36"/>
<use href="#m45bbeb" x="645.98" y="142.36"/>
<use href="#m45bbeb" x="647.08" y="142.37"/>
<use href="#m45bbeb" x="648.13" y="142.37"/>
<use href="#m45bbeb" x="649.14" y="142.37"/>
<use href="#m45bbeb" x="650.11" y="142.37"/>
<use href="#m45bbeb" x="651.05" y="142.38"/>
<use href="#m45bbeb" x="651.95" y="142.38"/>
<use href="#m45bbeb" x="652.82" y="142.38"/>
<use href="#m45bbeb" x="653.67" y="142.38"/>
<use href="#m45bbeb" x="654.48" y="142.38"/>
<use href="#m45bbeb" x="655.27" y="142.39"/>
<use href="#m45bbeb" x="656.04" y="142.39"/>
<use href="#m45bbeb" x="656.79" y="142.39"/>
<use href="#m45bbeb" x="657.51" y="142.39"/>
<use href="#m45bbeb" x="658.21" y="142.39"/>
<use href="#m45bbeb" x="658.89" y="142.39"/>
<use href="#m45bbeb" x="661.10" y="142.40"/>
<path d="M84.10 551.40 L90.80 550.00 L92.20 531.90 L95.50 540.10 L97.30 539.50 L99.50 540.00 L101.40 533.70 L103.70 525.70 L105.80 540.10 L107.20 548.90 L109.00 549.50 L110.90 530.20 L113.60 528.80 L116.00 529.60 L117.70 532.30 L119.20 528.00 L120.60 525.70 L122.40 526.70 L124.70 527.90 L126.10 541.90 L128.20 534.30 L130.60 544.80 L132.90 530.20 L135.80 540.10 L138.70 546.80 L141.70 549.80 L144.60 549.80 L148.70 533.10 L153.30 538.10 L158.80 541.00 L165.30 539.30 L173.30 523.80 L182.90 521.20 L196.90 518.00 L216.20 516.10 L238.00 518.10 L254.10 529.20 L257.70 514.70 L261.70 496.10 L264.20 514.70 L266.90 497.60 L269.60 505.80 L273.20 495.30 L275.60 500.60 L277.70 498.00 L280.60 499.10 L283.60 498.30 L286.30 501.30 L289.30 501.00 L292.60 501.30 L296.00 499.10 L298.50 499.80 L302.40 500.60 L306.40 496.80 L310.10 492.40 L313.10 490.90 L316.80 484.90 L320.60 480.40 L322.90 471.00 L327.40 443.90 L336.50 381.60 L350.10 388.50" stroke="#f83c45" stroke-width="1.0" fill="none" stroke-linejoin="round"/>
<circle cx="84.10" cy="551.40" r="1.15" fill="#f83c45"/>
<circle cx="90.80" cy="550.00" r="1.15" fill="#f83c45"/>
<circle cx="92.20" cy="531.90" r="1.15" fill="#f83c45"/>
<circle cx="95.50" cy="540.10" r="1.15" fill="#f83c45"/>
<circle cx="97.30" cy="539.50" r="1.15" fill="#f83c45"/>
<circle cx="99.50" cy="540.00" r="1.15" fill="#f83c45"/>
<circle cx="101.40" cy="533.70" r="1.15" fill="#f83c45"/>
<circle cx="103.70" cy="525.70" r="1.15" fill="#f83c45"/>
<circle cx="105.80" cy="540.10" r="1.15" fill="#f83c45"/>
<circle cx="107.20" cy="548.90" r="1.15" fill="#f83c45"/>
<circle cx="109.00" cy="549.50" r="1.15" fill="#f83c45"/>
<circle cx="110.90" cy="530.20" r="1.15" fill="#f83c45"/>
<circle cx="113.60" cy="528.80" r="1.15" fill="#f83c45"/>
<circle cx="116.00" cy="529.60" r="1.15" fill="#f83c45"/>
<circle cx="117.70" cy="532.30" r="1.15" fill="#f83c45"/>
<circle cx="119.20" cy="528.00" r="1.15" fill="#f83c45"/>
<circle cx="120.60" cy="525.70" r="1.15" fill="#f83c45"/>
<circle cx="122.40" cy="526.70" r="1.15" fill="#f83c45"/>
<circle cx="124.70" cy="527.90" r="1.15" fill="#f83c45"/>
<circle cx="126.10" cy="541.90" r="1.15" fill="#f83c45"/>
<circle cx="128.20" cy="534.30" r="1.15" fill="#f83c45"/>
<circle cx="130.60" cy="544.80" r="1.15" fill="#f83c45"/>
<circle cx="132.90" cy="530.20" r="1.15" fill="#f83c45"/>
<circle cx="135.80" cy="540.10" r="1.15" fill="#f83c45"/>
<circle cx="138.70" cy="546.80" r="1.15" fill="#f83c45"/>
<circle cx="141.70" cy="549.80" r="1.15" fill="#f83c45"/>
<circle cx="144.60" cy="549.80" r="1.15" fill="#f83c45"/>
<circle cx="148.70" cy="533.10" r="1.15" fill="#f83c45"/>
<circle cx="153.30" cy="538.10" r="1.15" fill="#f83c45"/>
<circle cx="158.80" cy="541.00" r="1.15" fill="#f83c45"/>
<circle cx="165.30" cy="539.30" r="1.15" fill="#f83c45"/>
<circle cx="173.30" cy="523.80" r="1.15" fill="#f83c45"/>
<circle cx="182.90" cy="521.20" r="1.15" fill="#f83c45"/>
<circle cx="196.90" cy="518.00" r="1.15" fill="#f83c45"/>
<circle cx="216.20" cy="516.10" r="1.15" fill="#f83c45"/>
<circle cx="238.00" cy="518.10" r="1.15" fill="#f83c45"/>
<circle cx="254.10" cy="529.20" r="1.15" fill="#f83c45"/>
<circle cx="257.70" cy="514.70" r="1.15" fill="#f83c45"/>
<circle cx="261.70" cy="496.10" r="1.15" fill="#f83c45"/>
<circle cx="264.20" cy="514.70" r="1.15" fill="#f83c45"/>
<circle cx="266.90" cy="497.60" r="1.15" fill="#f83c45"/>
<circle cx="269.60" cy="505.80" r="1.15" fill="#f83c45"/>
<circle cx="273.20" cy="495.30" r="1.15" fill="#f83c45"/>
<circle cx="275.60" cy="500.60" r="1.15" fill="#f83c45"/>
<circle cx="277.70" cy="498.00" r="1.15" fill="#f83c45"/>
<circle cx="280.60" cy="499.10" r="1.15" fill="#f83c45"/>
<circle cx="283.60" cy="498.30" r="1.15" fill="#f83c45"/>
<circle cx="286.30" cy="501.30" r="1.15" fill="#f83c45"/>
<circle cx="289.30" cy="501.00" r="1.15" fill="#f83c45"/>
<circle cx="292.60" cy="501.30" r="1.15" fill="#f83c45"/>
<circle cx="296.00" cy="499.10" r="1.15" fill="#f83c45"/>
<circle cx="298.50" cy="499.80" r="1.15" fill="#f83c45"/>
<circle cx="302.40" cy="500.60" r="1.15" fill="#f83c45"/>
<circle cx="306.40" cy="496.80" r="1.15" fill="#f83c45"/>
<circle cx="310.10" cy="492.40" r="1.15" fill="#f83c45"/>
<circle cx="313.10" cy="490.90" r="1.15" fill="#f83c45"/>
<circle cx="316.80" cy="484.90" r="1.15" fill="#f83c45"/>
<circle cx="320.60" cy="480.40" r="1.15" fill="#f83c45"/>
<circle cx="322.90" cy="471.00" r="1.15" fill="#f83c45"/>
<circle cx="327.40" cy="443.90" r="1.15" fill="#f83c45"/>
<circle cx="336.50" cy="381.60" r="1.15" fill="#f83c45"/>
<circle cx="350.10" cy="388.50" r="1.15" fill="#f83c45"/>
<path d="M84.10 551.40 L148.00 551.00 L150.40 548.90 L153.20 549.00 L156.30 547.10 L160.00 549.50 L167.70 548.50 L178.10 546.00 L192.60 540.50 L218.70 538.50 L252.80 541.80 L257.60 520.00 L261.00 512.50 L263.20 525.90 L266.20 516.90 L269.50 524.00 L272.60 504.30 L275.50 513.00 L278.80 511.00 L281.50 504.60 L284.80 530.40 L290.80 510.20 L295.20 516.20 L299.70 522.90 L303.00 515.00 L307.20 513.20 L311.60 511.70 L314.60 509.90 L320.60 500.60 L328.00 496.80 L337.30 485.70 L348.60 503.10" stroke="#6a97d0" stroke-width="1.0" fill="none" stroke-linejoin="round"/>
<circle cx="84.10" cy="551.40" r="1.15" fill="#6a97d0"/>
<circle cx="148.00" cy="551.00" r="1.15" fill="#6a97d0"/>
<circle cx="150.40" cy="548.90" r="1.15" fill="#6a97d0"/>
<circle cx="153.20" cy="549.00" r="1.15" fill="#6a97d0"/>
<circle cx="156.30" cy="547.10" r="1.15" fill="#6a97d0"/>
<circle cx="160.00" cy="549.50" r="1.15" fill="#6a97d0"/>
<circle cx="167.70" cy="548.50" r="1.15" fill="#6a97d0"/>
<circle cx="178.10" cy="546.00" r="1.15" fill="#6a97d0"/>
<circle cx="192.60" cy="540.50" r="1.15" fill="#6a97d0"/>
<circle cx="218.70" cy="538.50" r="1.15" fill="#6a97d0"/>
<circle cx="252.80" cy="541.80" r="1.15" fill="#6a97d0"/>
<circle cx="257.60" cy="520.00" r="1.15" fill="#6a97d0"/>
<circle cx="261.00" cy="512.50" r="1.15" fill="#6a97d0"/>
<circle cx="263.20" cy="525.90" r="1.15" fill="#6a97d0"/>
<circle cx="266.20" cy="516.90" r="1.15" fill="#6a97d0"/>
<circle cx="269.50" cy="524.00" r="1.15" fill="#6a97d0"/>
<circle cx="272.60" cy="504.30" r="1.15" fill="#6a97d0"/>
<circle cx="275.50" cy="513.00" r="1.15" fill="#6a97d0"/>
<circle cx="278.80" cy="511.00" r="1.15" fill="#6a97d0"/>
<circle cx="281.50" cy="504.60" r="1.15" fill="#6a97d0"/>
<circle cx="284.80" cy="530.40" r="1.15" fill="#6a97d0"/>
<circle cx="290.80" cy="510.20" r="1.15" fill="#6a97d0"/>
<circle cx="295.20" cy="516.20" r="1.15" fill="#6a97d0"/>
<circle cx="299.70" cy="522.90" r="1.15" fill="#6a97d0"/>
<circle cx="303.00" cy="515.00" r="1.15" fill="#6a97d0"/>
<circle cx="307.20" cy="513.20" r="1.15" fill="#6a97d0"/>
<circle cx="311.60" cy="511.70" r="1.15" fill="#6a97d0"/>
<circle cx="314.60" cy="509.90" r="1.15" fill="#6a97d0"/>
<circle cx="320.60" cy="500.60" r="1.15" fill="#6a97d0"/>
<circle cx="328.00" cy="496.80" r="1.15" fill="#6a97d0"/>
<circle cx="337.30" cy="485.70" r="1.15" fill="#6a97d0"/>
<circle cx="348.60" cy="503.10" r="1.15" fill="#6a97d0"/>
<path d="M84.10 551.40 L152.40 551.10 L166.10 551.10 L175.70 549.00 L191.40 545.00 L217.10 543.00 L251.20 546.60 L255.00 543.00 L261.00 542.30 L263.50 548.00 L267.70 519.20 L270.60 531.10 L272.90 525.10 L276.60 537.10 L279.60 519.90 L282.60 532.60 L285.60 525.10 L288.50 539.30 L291.50 522.90 L296.00 522.20 L299.70 525.90 L304.90 531.10 L310.90 520.70 L317.60 516.20 L323.60 511.70 L330.30 504.30 L338.80 492.70 L350.50 513.80" stroke="#fccb46" stroke-width="1.0" fill="none" stroke-linejoin="round"/>
<circle cx="84.10" cy="551.40" r="1.15" fill="#fccb46"/>
<circle cx="152.40" cy="551.10" r="1.15" fill="#fccb46"/>
<circle cx="166.10" cy="551.10" r="1.15" fill="#fccb46"/>
<circle cx="175.70" cy="549.00" r="1.15" fill="#fccb46"/>
<circle cx="191.40" cy="545.00" r="1.15" fill="#fccb46"/>
<circle cx="217.10" cy="543.00" r="1.15" fill="#fccb46"/>
<circle cx="251.20" cy="546.60" r="1.15" fill="#fccb46"/>
<circle cx="255.00" cy="543.00" r="1.15" fill="#fccb46"/>
<circle cx="261.00" cy="542.30" r="1.15" fill="#fccb46"/>
<circle cx="263.50" cy="548.00" r="1.15" fill="#fccb46"/>
<circle cx="267.70" cy="519.20" r="1.15" fill="#fccb46"/>
<circle cx="270.60" cy="531.10" r="1.15" fill="#fccb46"/>
<circle cx="272.90" cy="525.10" r="1.15" fill="#fccb46"/>
<circle cx="276.60" cy="537.10" r="1.15" fill="#fccb46"/>
<circle cx="279.60" cy="519.90" r="1.15" fill="#fccb46"/>
<circle cx="282.60" cy="532.60" r="1.15" fill="#fccb46"/>
<circle cx="285.60" cy="525.10" r="1.15" fill="#fccb46"/>
<circle cx="288.50" cy="539.30" r="1.15" fill="#fccb46"/>
<circle cx="291.50" cy="522.90" r="1.15" fill="#fccb46"/>
<circle cx="296.00" cy="522.20" r="1.15" fill="#fccb46"/>
<circle cx="299.70" cy="525.90" r="1.15" fill="#fccb46"/>
<circle cx="304.90" cy="531.10" r="1.15" fill="#fccb46"/>
<circle cx="310.90" cy="520.70" r="1.15" fill="#fccb46"/>
<circle cx="317.60" cy="516.20" r="1.15" fill="#fccb46"/>
<circle cx="323.60" cy="511.70" r="1.15" fill="#fccb46"/>
<circle cx="330.30" cy="504.30" r="1.15" fill="#fccb46"/>
<circle cx="338.80" cy="492.70" r="1.15" fill="#fccb46"/>
<circle cx="350.50" cy="513.80" r="1.15" fill="#fccb46"/>
<path d="M84.10 551.40 L93.20 550.00 L94.60 534.90 L97.30 539.00 L99.60 540.10 L101.40 534.90 L103.70 546.50 L106.00 540.70 L107.20 548.90 L109.00 546.00 L111.00 538.00 L113.30 530.00 L114.80 537.20 L116.50 542.50 L119.00 540.00 L121.20 539.00 L124.10 541.30 L126.50 538.40 L128.80 545.40 L132.30 535.40 L135.20 541.30 L138.70 547.10 L142.20 539.00 L146.90 542.50 L152.20 544.20 L159.20 542.80 L166.90 542.70 L178.10 537.70 L194.20 532.60 L219.40 533.40 L249.60 537.40 L257.60 517.70 L258.70 513.20 L262.50 522.90 L265.40 511.00 L269.20 511.00 L272.10 508.70 L275.90 508.00 L280.00 510.20 L283.30 507.30 L287.00 508.00 L290.00 509.50 L293.00 505.00 L296.00 502.80 L299.70 499.10 L302.70 497.60 L306.40 496.80 L309.60 488.50 L315.80 484.30 L322.60 470.20 L328.20 451.20 L335.60 397.80 L348.50 427.20" stroke="#6dcf8d" stroke-width="1.0" fill="none" stroke-linejoin="round"/>
<circle cx="84.10" cy="551.40" r="1.15" fill="#6dcf8d"/>
<circle cx="93.20" cy="550.00" r="1.15" fill="#6dcf8d"/>
<circle cx="94.60" cy="534.90" r="1.15" fill="#6dcf8d"/>
<circle cx="97.30" cy="539.00" r="1.15" fill="#6dcf8d"/>
<circle cx="99.60" cy="540.10" r="1.15" fill="#6dcf8d"/>
<circle cx="101.40" cy="534.90" r="1.15" fill="#6dcf8d"/>
<circle cx="103.70" cy="546.50" r="1.15" fill="#6dcf8d"/>
<circle cx="106.00" cy="540.70" r="1.15" fill="#6dcf8d"/>
<circle cx="107.20" cy="548.90" r="1.15" fill="#6dcf8d"/>
<circle cx="109.00" cy="546.00" r="1.15" fill="#6dcf8d"/>
<circle cx="111.00" cy="538.00" r="1.15" fill="#6dcf8d"/>
<circle cx="113.30" cy="530.00" r="1.15" fill="#6dcf8d"/>
<circle cx="114.80" cy="537.20" r="1.15" fill="#6dcf8d"/>
<circle cx="116.50" cy="542.50" r="1.15" fill="#6dcf8d"/>
<circle cx="119.00" cy="540.00" r="1.15" fill="#6dcf8d"/>
<circle cx="121.20" cy="539.00" r="1.15" fill="#6dcf8d"/>
<circle cx="124.10" cy="541.30" r="1.15" fill="#6dcf8d"/>
<circle cx="126.50" cy="538.40" r="1.15" fill="#6dcf8d"/>
<circle cx="128.80" cy="545.40" r="1.15" fill="#6dcf8d"/>
<circle cx="132.30" cy="535.40" r="1.15" fill="#6dcf8d"/>
<circle cx="135.20" cy="541.30" r="1.15" fill="#6dcf8d"/>
<circle cx="138.70" cy="547.10" r="1.15" fill="#6dcf8d"/>
<circle cx="142.20" cy="539.00" r="1.15" fill="#6dcf8d"/>
<circle cx="146.90" cy="542.50" r="1.15" fill="#6dcf8d"/>
<circle cx="152.20" cy="544.20" r="1.15" fill="#6dcf8d"/>
<circle cx="159.20" cy="542.80" r="1.15" fill="#6dcf8d"/>
<circle cx="166.90" cy="542.70" r="1.15" fill="#6dcf8d"/>
<circle cx="178.10" cy="537.70" r="1.15" fill="#6dcf8d"/>
<circle cx="194.20" cy="532.60" r="1.15" fill="#6dcf8d"/>
<circle cx="219.40" cy="533.40" r="1.15" fill="#6dcf8d"/>
<circle cx="249.60" cy="537.40" r="1.15" fill="#6dcf8d"/>
<circle cx="257.60" cy="517.70" r="1.15" fill="#6dcf8d"/>
<circle cx="258.70" cy="513.20" r="1.15" fill="#6dcf8d"/>
<circle cx="262.50" cy="522.90" r="1.15" fill="#6dcf8d"/>
<circle cx="265.40" cy="511.00" r="1.15" fill="#6dcf8d"/>
<circle cx="269.20" cy="511.00" r="1.15" fill="#6dcf8d"/>
<circle cx="272.10" cy="508.70" r="1.15" fill="#6dcf8d"/>
<circle cx="275.90" cy="508.00" r="1.15" fill="#6dcf8d"/>
<circle cx="280.00" cy="510.20" r="1.15" fill="#6dcf8d"/>
<circle cx="283.30" cy="507.30" r="1.15" fill="#6dcf8d"/>
<circle cx="287.00" cy="508.00" r="1.15" fill="#6dcf8d"/>
<circle cx="290.00" cy="509.50" r="1.15" fill="#6dcf8d"/>
<circle cx="293.00" cy="505.00" r="1.15" fill="#6dcf8d"/>
<circle cx="296.00" cy="502.80" r="1.15" fill="#6dcf8d"/>
<circle cx="299.70" cy="499.10" r="1.15" fill="#6dcf8d"/>
<circle cx="302.70" cy="497.60" r="1.15" fill="#6dcf8d"/>
<circle cx="306.40" cy="496.80" r="1.15" fill="#6dcf8d"/>
<circle cx="309.60" cy="488.50" r="1.15" fill="#6dcf8d"/>
<circle cx="315.80" cy="484.30" r="1.15" fill="#6dcf8d"/>
<circle cx="322.60" cy="470.20" r="1.15" fill="#6dcf8d"/>
<circle cx="328.20" cy="451.20" r="1.15" fill="#6dcf8d"/>
<circle cx="335.60" cy="397.80" r="1.15" fill="#6dcf8d"/>
<circle cx="348.50" cy="427.20" r="1.15" fill="#6dcf8d"/>
<path d="M84.10 551.40 L150.00 551.40 L153.20 550.50 L167.70 549.00 L178.10 545.80 L193.00 539.30 L219.40 534.50 L251.50 542.10 L255.00 539.30 L261.70 534.10 L263.20 551.20 L265.40 517.70 L268.40 544.50 L272.10 503.50 L274.50 512.00 L277.40 506.50 L279.60 528.90 L282.60 507.30 L285.60 531.10 L288.50 522.90 L292.30 510.20 L296.00 515.00 L300.50 525.10 L304.20 514.70 L309.40 519.20 L314.60 512.50 L320.60 499.80 L328.80 497.60 L338.50 482.70 L350.50 492.60" stroke="#45bbeb" stroke-width="1.0" fill="none" stroke-linejoin="round"/>
<circle cx="84.10" cy="551.40" r="1.3" fill="#45bbeb"/>
<circle cx="86.50" cy="551.40" r="1.3" fill="#45bbeb"/>
<circle cx="88.90" cy="551.40" r="1.3" fill="#45bbeb"/>
<circle cx="91.30" cy="551.40" r="1.3" fill="#45bbeb"/>
<circle cx="93.70" cy="551.40" r="1.3" fill="#45bbeb"/>
<circle cx="96.10" cy="551.40" r="1.3" fill="#45bbeb"/>
<circle cx="98.50" cy="551.40" r="1.3" fill="#45bbeb"/>
<circle cx="100.90" cy="551.40" r="1.3" fill="#45bbeb"/>
<circle cx="103.30" cy="551.40" r="1.3" fill="#45bbeb"/>
<circle cx="105.70" cy="551.40" r="1.3" fill="#45bbeb"/>
<circle cx="108.10" cy="551.40" r="1.3" fill="#45bbeb"/>
<circle cx="110.50" cy="551.40" r="1.3" fill="#45bbeb"/>
<circle cx="112.90" cy="551.40" r="1.3" fill="#45bbeb"/>
<circle cx="115.30" cy="551.40" r="1.3" fill="#45bbeb"/>
<circle cx="117.70" cy="551.40" r="1.3" fill="#45bbeb"/>
<circle cx="120.10" cy="551.40" r="1.3" fill="#45bbeb"/>
<circle cx="122.50" cy="551.40" r="1.3" fill="#45bbeb"/>
<circle cx="124.90" cy="551.40" r="1.3" fill="#45bbeb"/>
<circle cx="127.30" cy="551.40" r="1.3" fill="#45bbeb"/>
<circle cx="129.70" cy="551.40" r="1.3" fill="#45bbeb"/>
<circle cx="132.10" cy="551.40" r="1.3" fill="#45bbeb"/>
<circle cx="134.50" cy="551.40" r="1.3" fill="#45bbeb"/>
<circle cx="136.90" cy="551.40" r="1.3" fill="#45bbeb"/>
<circle cx="139.30" cy="551.40" r="1.3" fill="#45bbeb"/>
<circle cx="141.70" cy="551.40" r="1.3" fill="#45bbeb"/>
<circle cx="144.10" cy="551.40" r="1.3" fill="#45bbeb"/>
<circle cx="146.50" cy="551.40" r="1.3" fill="#45bbeb"/>
<circle cx="148.90" cy="551.40" r="1.3" fill="#45bbeb"/>
<circle cx="150.00" cy="551.40" r="1.3" fill="#45bbeb"/>
<circle cx="153.20" cy="550.50" r="1.3" fill="#45bbeb"/>
<circle cx="167.70" cy="549.00" r="1.15" fill="#45bbeb"/>
<circle cx="178.10" cy="545.80" r="1.15" fill="#45bbeb"/>
<circle cx="193.00" cy="539.30" r="1.15" fill="#45bbeb"/>
<circle cx="219.40" cy="534.50" r="1.15" fill="#45bbeb"/>
<circle cx="251.50" cy="542.10" r="1.15" fill="#45bbeb"/>
<circle cx="255.00" cy="539.30" r="1.15" fill="#45bbeb"/>
<circle cx="261.70" cy="534.10" r="1.15" fill="#45bbeb"/>
<circle cx="263.20" cy="551.20" r="1.3" fill="#45bbeb"/>
<circle cx="265.40" cy="517.70" r="1.15" fill="#45bbeb"/>
<circle cx="268.40" cy="544.50" r="1.15" fill="#45bbeb"/>
<circle cx="272.10" cy="503.50" r="1.15" fill="#45bbeb"/>
<circle cx="274.50" cy="512.00" r="1.15" fill="#45bbeb"/>
<circle cx="277.40" cy="506.50" r="1.15" fill="#45bbeb"/>
<circle cx="279.60" cy="528.90" r="1.15" fill="#45bbeb"/>
<circle cx="282.60" cy="507.30" r="1.15" fill="#45bbeb"/>
<circle cx="285.60" cy="531.10" r="1.15" fill="#45bbeb"/>
<circle cx="288.50" cy="522.90" r="1.15" fill="#45bbeb"/>
<circle cx="292.30" cy="510.20" r="1.15" fill="#45bbeb"/>
<circle cx="296.00" cy="515.00" r="1.15" fill="#45bbeb"/>
<circle cx="300.50" cy="525.10" r="1.15" fill="#45bbeb"/>
<circle cx="304.20" cy="514.70" r="1.15" fill="#45bbeb"/>
<circle cx="309.40" cy="519.20" r="1.15" fill="#45bbeb"/>
<circle cx="314.60" cy="512.50" r="1.15" fill="#45bbeb"/>
<circle cx="320.60" cy="499.80" r="1.15" fill="#45bbeb"/>
<circle cx="328.80" cy="497.60" r="1.15" fill="#45bbeb"/>
<circle cx="338.50" cy="482.70" r="1.15" fill="#45bbeb"/>
<circle cx="350.50" cy="492.60" r="1.15" fill="#45bbeb"/>
<path d="M395.90 550.40 L398.50 549.80 L399.90 526.80 L401.20 513.40 L402.50 532.30 L404.50 527.10 L406.00 539.70 L408.00 530.00 L409.70 518.30 L411.00 525.20 L413.00 518.00 L414.50 515.00 L416.00 511.00 L418.30 520.90 L420.20 532.00 L422.90 526.80 L424.80 535.30 L426.10 544.50 L428.10 525.50 L430.10 530.70 L432.30 528.40 L434.40 542.60 L436.30 539.70 L438.40 543.90 L440.30 536.60 L442.60 522.20 L444.90 528.10 L447.60 541.90 L450.20 532.70 L453.30 532.70 L456.40 475.50 L460.30 331.00 L464.70 433.20 L470.10 538.20 L476.60 530.80 L484.30 525.70 L493.60 530.80 L507.60 528.10 L526.30 525.40 L548.50 529.20 L566.20 532.40 L571.00 510.20 L573.20 514.70 L576.90 506.50 L579.90 520.70 L581.70 514.70 L585.90 505.00 L588.80 513.20 L591.50 509.00 L594.80 507.30 L598.70 508.60 L602.70 503.30 L606.40 500.60 L609.70 504.00 L614.20 506.50 L620.90 506.50 L627.60 491.60 L636.00 458.30 L646.90 382.80 L661.40 378.70" stroke="#f83c45" stroke-width="1.0" fill="none" stroke-linejoin="round"/>
<circle cx="395.90" cy="550.40" r="1.15" fill="#f83c45"/>
<circle cx="398.50" cy="549.80" r="1.15" fill="#f83c45"/>
<circle cx="399.90" cy="526.80" r="1.15" fill="#f83c45"/>
<circle cx="401.20" cy="513.40" r="1.15" fill="#f83c45"/>
<circle cx="402.50" cy="532.30" r="1.15" fill="#f83c45"/>
<circle cx="404.50" cy="527.10" r="1.15" fill="#f83c45"/>
<circle cx="406.00" cy="539.70" r="1.15" fill="#f83c45"/>
<circle cx="408.00" cy="530.00" r="1.15" fill="#f83c45"/>
<circle cx="409.70" cy="518.30" r="1.15" fill="#f83c45"/>
<circle cx="411.00" cy="525.20" r="1.15" fill="#f83c45"/>
<circle cx="413.00" cy="518.00" r="1.15" fill="#f83c45"/>
<circle cx="414.50" cy="515.00" r="1.15" fill="#f83c45"/>
<circle cx="416.00" cy="511.00" r="1.15" fill="#f83c45"/>
<circle cx="418.30" cy="520.90" r="1.15" fill="#f83c45"/>
<circle cx="420.20" cy="532.00" r="1.15" fill="#f83c45"/>
<circle cx="422.90" cy="526.80" r="1.15" fill="#f83c45"/>
<circle cx="424.80" cy="535.30" r="1.15" fill="#f83c45"/>
<circle cx="426.10" cy="544.50" r="1.15" fill="#f83c45"/>
<circle cx="428.10" cy="525.50" r="1.15" fill="#f83c45"/>
<circle cx="430.10" cy="530.70" r="1.15" fill="#f83c45"/>
<circle cx="432.30" cy="528.40" r="1.15" fill="#f83c45"/>
<circle cx="434.40" cy="542.60" r="1.15" fill="#f83c45"/>
<circle cx="436.30" cy="539.70" r="1.15" fill="#f83c45"/>
<circle cx="438.40" cy="543.90" r="1.15" fill="#f83c45"/>
<circle cx="440.30" cy="536.60" r="1.15" fill="#f83c45"/>
<circle cx="442.60" cy="522.20" r="1.15" fill="#f83c45"/>
<circle cx="444.90" cy="528.10" r="1.15" fill="#f83c45"/>
<circle cx="447.60" cy="541.90" r="1.15" fill="#f83c45"/>
<circle cx="450.20" cy="532.70" r="1.15" fill="#f83c45"/>
<circle cx="453.30" cy="532.70" r="1.15" fill="#f83c45"/>
<circle cx="456.40" cy="475.50" r="1.15" fill="#f83c45"/>
<circle cx="460.30" cy="331.00" r="1.15" fill="#f83c45"/>
<circle cx="464.70" cy="433.20" r="1.15" fill="#f83c45"/>
<circle cx="470.10" cy="538.20" r="1.15" fill="#f83c45"/>
<circle cx="476.60" cy="530.80" r="1.15" fill="#f83c45"/>
<circle cx="484.30" cy="525.70" r="1.15" fill="#f83c45"/>
<circle cx="493.60" cy="530.80" r="1.15" fill="#f83c45"/>
<circle cx="507.60" cy="528.10" r="1.15" fill="#f83c45"/>
<circle cx="526.30" cy="525.40" r="1.15" fill="#f83c45"/>
<circle cx="548.50" cy="529.20" r="1.15" fill="#f83c45"/>
<circle cx="566.20" cy="532.40" r="1.15" fill="#f83c45"/>
<circle cx="571.00" cy="510.20" r="1.15" fill="#f83c45"/>
<circle cx="573.20" cy="514.70" r="1.15" fill="#f83c45"/>
<circle cx="576.90" cy="506.50" r="1.15" fill="#f83c45"/>
<circle cx="579.90" cy="520.70" r="1.15" fill="#f83c45"/>
<circle cx="581.70" cy="514.70" r="1.15" fill="#f83c45"/>
<circle cx="585.90" cy="505.00" r="1.15" fill="#f83c45"/>
<circle cx="588.80" cy="513.20" r="1.15" fill="#f83c45"/>
<circle cx="591.50" cy="509.00" r="1.15" fill="#f83c45"/>
<circle cx="594.80" cy="507.30" r="1.15" fill="#f83c45"/>
<circle cx="598.70" cy="508.60" r="1.15" fill="#f83c45"/>
<circle cx="602.70" cy="503.30" r="1.15" fill="#f83c45"/>
<circle cx="606.40" cy="500.60" r="1.15" fill="#f83c45"/>
<circle cx="609.70" cy="504.00" r="1.15" fill="#f83c45"/>
<circle cx="614.20" cy="506.50" r="1.15" fill="#f83c45"/>
<circle cx="620.90" cy="506.50" r="1.15" fill="#f83c45"/>
<circle cx="627.60" cy="491.60" r="1.15" fill="#f83c45"/>
<circle cx="636.00" cy="458.30" r="1.15" fill="#f83c45"/>
<circle cx="646.90" cy="382.80" r="1.15" fill="#f83c45"/>
<circle cx="661.40" cy="378.70" r="1.15" fill="#f83c45"/>
<path d="M396.60 551.10 L403.10 549.80 L407.10 547.80 L409.40 536.00 L411.00 524.80 L413.40 529.40 L416.30 517.60 L417.60 534.70 L419.20 540.60 L420.90 545.20 L422.90 543.60 L424.80 549.10 L427.00 551.10 L450.00 551.10 L457.00 547.20 L462.00 548.50 L465.00 549.00 L483.50 548.20 L498.70 544.60 L520.40 537.70 L539.20 536.90 L553.60 535.70 L567.80 538.50 L571.00 538.60 L573.90 525.90 L576.90 540.10 L579.90 519.20 L584.40 532.60 L588.80 520.70 L594.80 526.60 L600.00 518.40 L605.20 520.70 L609.70 516.90 L615.70 517.70 L621.60 513.20 L630.60 494.60 L639.50 478.90 L647.80 453.80 L660.50 472.90" stroke="#6a97d0" stroke-width="1.0" fill="none" stroke-linejoin="round"/>
<circle cx="396.60" cy="551.10" r="1.15" fill="#6a97d0"/>
<circle cx="403.10" cy="549.80" r="1.15" fill="#6a97d0"/>
<circle cx="407.10" cy="547.80" r="1.15" fill="#6a97d0"/>
<circle cx="409.40" cy="536.00" r="1.15" fill="#6a97d0"/>
<circle cx="411.00" cy="524.80" r="1.15" fill="#6a97d0"/>
<circle cx="413.40" cy="529.40" r="1.15" fill="#6a97d0"/>
<circle cx="416.30" cy="517.60" r="1.15" fill="#6a97d0"/>
<circle cx="417.60" cy="534.70" r="1.15" fill="#6a97d0"/>
<circle cx="419.20" cy="540.60" r="1.15" fill="#6a97d0"/>
<circle cx="420.90" cy="545.20" r="1.15" fill="#6a97d0"/>
<circle cx="422.90" cy="543.60" r="1.15" fill="#6a97d0"/>
<circle cx="424.80" cy="549.10" r="1.15" fill="#6a97d0"/>
<circle cx="427.00" cy="551.10" r="1.15" fill="#6a97d0"/>
<circle cx="450.00" cy="551.10" r="1.15" fill="#6a97d0"/>
<circle cx="457.00" cy="547.20" r="1.15" fill="#6a97d0"/>
<circle cx="462.00" cy="548.50" r="1.15" fill="#6a97d0"/>
<circle cx="465.00" cy="549.00" r="1.15" fill="#6a97d0"/>
<circle cx="483.50" cy="548.20" r="1.15" fill="#6a97d0"/>
<circle cx="498.70" cy="544.60" r="1.15" fill="#6a97d0"/>
<circle cx="520.40" cy="537.70" r="1.15" fill="#6a97d0"/>
<circle cx="539.20" cy="536.90" r="1.15" fill="#6a97d0"/>
<circle cx="553.60" cy="535.70" r="1.15" fill="#6a97d0"/>
<circle cx="567.80" cy="538.50" r="1.15" fill="#6a97d0"/>
<circle cx="571.00" cy="538.60" r="1.15" fill="#6a97d0"/>
<circle cx="573.90" cy="525.90" r="1.15" fill="#6a97d0"/>
<circle cx="576.90" cy="540.10" r="1.15" fill="#6a97d0"/>
<circle cx="579.90" cy="519.20" r="1.15" fill="#6a97d0"/>
<circle cx="584.40" cy="532.60" r="1.15" fill="#6a97d0"/>
<circle cx="588.80" cy="520.70" r="1.15" fill="#6a97d0"/>
<circle cx="594.80" cy="526.60" r="1.15" fill="#6a97d0"/>
<circle cx="600.00" cy="518.40" r="1.15" fill="#6a97d0"/>
<circle cx="605.20" cy="520.70" r="1.15" fill="#6a97d0"/>
<circle cx="609.70" cy="516.90" r="1.15" fill="#6a97d0"/>
<circle cx="615.70" cy="517.70" r="1.15" fill="#6a97d0"/>
<circle cx="621.60" cy="513.20" r="1.15" fill="#6a97d0"/>
<circle cx="630.60" cy="494.60" r="1.15" fill="#6a97d0"/>
<circle cx="639.50" cy="478.90" r="1.15" fill="#6a97d0"/>
<circle cx="647.80" cy="453.80" r="1.15" fill="#6a97d0"/>
<circle cx="660.50" cy="472.90" r="1.15" fill="#6a97d0"/>
<path d="M396.60 551.10 L490.70 549.00 L507.60 545.30 L535.30 543.00 L566.20 549.80 L572.50 551.20 L577.70 537.80 L581.40 514.70 L584.70 492.40 L586.60 513.20 L589.50 512.00 L592.60 531.10 L595.60 523.70 L599.30 529.60 L604.50 521.40 L609.70 520.70 L615.70 517.70 L626.10 508.70 L633.60 489.40 L649.10 442.90 L661.40 473.80" stroke="#fccb46" stroke-width="1.0" fill="none" stroke-linejoin="round"/>
<circle cx="396.60" cy="551.10" r="1.15" fill="#fccb46"/>
<circle cx="490.70" cy="549.00" r="1.15" fill="#fccb46"/>
<circle cx="507.60" cy="545.30" r="1.15" fill="#fccb46"/>
<circle cx="535.30" cy="543.00" r="1.15" fill="#fccb46"/>
<circle cx="566.20" cy="549.80" r="1.15" fill="#fccb46"/>
<circle cx="572.50" cy="551.20" r="1.15" fill="#fccb46"/>
<circle cx="577.70" cy="537.80" r="1.15" fill="#fccb46"/>
<circle cx="581.40" cy="514.70" r="1.15" fill="#fccb46"/>
<circle cx="584.70" cy="492.40" r="1.15" fill="#fccb46"/>
<circle cx="586.60" cy="513.20" r="1.15" fill="#fccb46"/>
<circle cx="589.50" cy="512.00" r="1.15" fill="#fccb46"/>
<circle cx="592.60" cy="531.10" r="1.15" fill="#fccb46"/>
<circle cx="595.60" cy="523.70" r="1.15" fill="#fccb46"/>
<circle cx="599.30" cy="529.60" r="1.15" fill="#fccb46"/>
<circle cx="604.50" cy="521.40" r="1.15" fill="#fccb46"/>
<circle cx="609.70" cy="520.70" r="1.15" fill="#fccb46"/>
<circle cx="615.70" cy="517.70" r="1.15" fill="#fccb46"/>
<circle cx="626.10" cy="508.70" r="1.15" fill="#fccb46"/>
<circle cx="633.60" cy="489.40" r="1.15" fill="#fccb46"/>
<circle cx="649.10" cy="442.90" r="1.15" fill="#fccb46"/>
<circle cx="661.40" cy="473.80" r="1.15" fill="#fccb46"/>
<path d="M396.60 551.10 L489.10 551.40 L504.80 550.70 L527.60 545.80 L558.10 545.80 L565.00 547.50 L571.70 549.00 L574.70 551.20 L576.20 535.60 L579.20 529.60 L583.60 534.10 L587.40 526.60 L592.00 530.00 L597.00 536.30 L600.00 521.40 L606.00 541.50 L609.00 530.40 L612.70 508.00 L615.70 525.90 L622.00 518.00 L630.60 509.50 L638.80 492.40 L645.50 474.50 L648.30 460.50 L662.00 476.60" stroke="#6dcf8d" stroke-width="1.0" fill="none" stroke-linejoin="round"/>
<circle cx="396.60" cy="551.10" r="1.15" fill="#6dcf8d"/>
<circle cx="489.10" cy="551.40" r="1.15" fill="#6dcf8d"/>
<circle cx="504.80" cy="550.70" r="1.15" fill="#6dcf8d"/>
<circle cx="527.60" cy="545.80" r="1.15" fill="#6dcf8d"/>
<circle cx="558.10" cy="545.80" r="1.15" fill="#6dcf8d"/>
<circle cx="565.00" cy="547.50" r="1.15" fill="#6dcf8d"/>
<circle cx="571.70" cy="549.00" r="1.15" fill="#6dcf8d"/>
<circle cx="574.70" cy="551.20" r="1.15" fill="#6dcf8d"/>
<circle cx="576.20" cy="535.60" r="1.15" fill="#6dcf8d"/>
<circle cx="579.20" cy="529.60" r="1.15" fill="#6dcf8d"/>
<circle cx="583.60" cy="534.10" r="1.15" fill="#6dcf8d"/>
<circle cx="587.40" cy="526.60" r="1.15" fill="#6dcf8d"/>
<circle cx="592.00" cy="530.00" r="1.15" fill="#6dcf8d"/>
<circle cx="597.00" cy="536.30" r="1.15" fill="#6dcf8d"/>
<circle cx="600.00" cy="521.40" r="1.15" fill="#6dcf8d"/>
<circle cx="606.00" cy="541.50" r="1.15" fill="#6dcf8d"/>
<circle cx="609.00" cy="530.40" r="1.15" fill="#6dcf8d"/>
<circle cx="612.70" cy="508.00" r="1.15" fill="#6dcf8d"/>
<circle cx="615.70" cy="525.90" r="1.15" fill="#6dcf8d"/>
<circle cx="622.00" cy="518.00" r="1.15" fill="#6dcf8d"/>
<circle cx="630.60" cy="509.50" r="1.15" fill="#6dcf8d"/>
<circle cx="638.80" cy="492.40" r="1.15" fill="#6dcf8d"/>
<circle cx="645.50" cy="474.50" r="1.15" fill="#6dcf8d"/>
<circle cx="648.30" cy="460.50" r="1.15" fill="#6dcf8d"/>
<circle cx="662.00" cy="476.60" r="1.15" fill="#6dcf8d"/>
<path d="M396.60 551.10 L450.40 550.40 L455.70 546.50 L461.00 539.30 L466.20 542.60 L473.80 546.90 L483.00 547.90 L495.50 541.00 L512.90 537.40 L539.20 536.90 L567.20 543.00 L571.70 529.60 L574.70 535.60 L576.90 523.70 L579.90 525.10 L582.90 517.70 L586.60 521.40 L589.60 513.20 L594.10 518.40 L599.30 507.30 L603.00 517.70 L606.00 545.30 L610.00 525.00 L614.20 517.70 L620.90 508.00 L626.10 505.80 L633.60 488.60 L643.80 449.20 L659.70 488.00" stroke="#45bbeb" stroke-width="1.0" fill="none" stroke-linejoin="round"/>
<circle cx="396.60" cy="551.10" r="1.3" fill="#45bbeb"/>
<circle cx="399.00" cy="551.07" r="1.3" fill="#45bbeb"/>
<circle cx="401.40" cy="551.04" r="1.3" fill="#45bbeb"/>
<circle cx="403.80" cy="551.01" r="1.3" fill="#45bbeb"/>
<circle cx="406.20" cy="550.98" r="1.3" fill="#45bbeb"/>
<circle cx="408.60" cy="550.94" r="1.3" fill="#45bbeb"/>
<circle cx="411.00" cy="550.91" r="1.3" fill="#45bbeb"/>
<circle cx="413.40" cy="550.88" r="1.3" fill="#45bbeb"/>
<circle cx="415.80" cy="550.85" r="1.3" fill="#45bbeb"/>
<circle cx="418.20" cy="550.82" r="1.3" fill="#45bbeb"/>
<circle cx="420.60" cy="550.79" r="1.3" fill="#45bbeb"/>
<circle cx="423.00" cy="550.76" r="1.3" fill="#45bbeb"/>
<circle cx="425.40" cy="550.73" r="1.3" fill="#45bbeb"/>
<circle cx="427.80" cy="550.69" r="1.3" fill="#45bbeb"/>
<circle cx="430.20" cy="550.66" r="1.3" fill="#45bbeb"/>
<circle cx="432.60" cy="550.63" r="1.3" fill="#45bbeb"/>
<circle cx="435.00" cy="550.60" r="1.3" fill="#45bbeb"/>
<circle cx="437.40" cy="550.57" r="1.3" fill="#45bbeb"/>
<circle cx="439.80" cy="550.54" r="1.3" fill="#45bbeb"/>
<circle cx="442.20" cy="550.51" r="1.3" fill="#45bbeb"/>
<circle cx="444.60" cy="550.48" r="1.3" fill="#45bbeb"/>
<circle cx="447.00" cy="550.44" r="1.3" fill="#45bbeb"/>
<circle cx="450.40" cy="550.40" r="1.3" fill="#45bbeb"/>
<circle cx="455.70" cy="546.50" r="1.15" fill="#45bbeb"/>
<circle cx="461.00" cy="539.30" r="1.15" fill="#45bbeb"/>
<circle cx="466.20" cy="542.60" r="1.15" fill="#45bbeb"/>
<circle cx="473.80" cy="546.90" r="1.15" fill="#45bbeb"/>
<circle cx="483.00" cy="547.90" r="1.15" fill="#45bbeb"/>
<circle cx="495.50" cy="541.00" r="1.15" fill="#45bbeb"/>
<circle cx="512.90" cy="537.40" r="1.15" fill="#45bbeb"/>
<circle cx="539.20" cy="536.90" r="1.15" fill="#45bbeb"/>
<circle cx="567.20" cy="543.00" r="1.15" fill="#45bbeb"/>
<circle cx="571.70" cy="529.60" r="1.15" fill="#45bbeb"/>
<circle cx="574.70" cy="535.60" r="1.15" fill="#45bbeb"/>
<circle cx="576.90" cy="523.70" r="1.15" fill="#45bbeb"/>
<circle cx="579.90" cy="525.10" r="1.15" fill="#45bbeb"/>
<circle cx="582.90" cy="517.70" r="1.15" fill="#45bbeb"/>
<circle cx="586.60" cy="521.40" r="1.15" fill="#45bbeb"/>
<circle cx="589.60" cy="513.20" r="1.15" fill="#45bbeb"/>
<circle cx="594.10" cy="518.40" r="1.15" fill="#45bbeb"/>
<circle cx="599.30" cy="507.30" r="1.15" fill="#45bbeb"/>
<circle cx="603.00" cy="517.70" r="1.15" fill="#45bbeb"/>
<circle cx="606.00" cy="545.30" r="1.15" fill="#45bbeb"/>
<circle cx="610.00" cy="525.00" r="1.15" fill="#45bbeb"/>
<circle cx="614.20" cy="517.70" r="1.15" fill="#45bbeb"/>
<circle cx="620.90" cy="508.00" r="1.15" fill="#45bbeb"/>
<circle cx="626.10" cy="505.80" r="1.15" fill="#45bbeb"/>
<circle cx="633.60" cy="488.60" r="1.15" fill="#45bbeb"/>
<circle cx="643.80" cy="449.20" r="1.15" fill="#45bbeb"/>
<circle cx="659.70" cy="488.00" r="1.15" fill="#45bbeb"/>
<rect x="159.4" y="510.7" width="98.30" height="41.60" fill="none" stroke="#111" stroke-width="1.6" stroke-dasharray="6.3 6.3"/>
<line x1="223.9" y1="507.2" x2="223.9" y2="479.9" stroke="#111" stroke-width="1.4"/>
<path d="M223.9 472.9 L226.3 481.4 L221.5 481.4 Z" fill="#111"/>
<rect x="474.6" y="518.8" width="84.80" height="36.10" fill="none" stroke="#111" stroke-width="1.6" stroke-dasharray="6.3 6.3"/>
<line x1="537.7" y1="513.7" x2="537.7" y2="486.3" stroke="#111" stroke-width="1.4"/>
<path d="M537.7 479.3 L540.1 487.8 L535.3000000000001 487.8 Z" fill="#111"/>
<clipPath id="cj"><rect x="130.0" y="396.4" width="154.20" height="74.80"/></clipPath>
<rect x="130.0" y="396.4" width="154.20" height="74.80" fill="#fff"/>
<g clip-path="url(#cj)">
<path d="M131.20 447.50 L139.90 444.60 L152.30 418.50 L167.90 414.30 L189.50 408.80 L220.50 406.10 L254.00 408.80 L280.00 428.40 L284.20 415.00" stroke="#f83c45" stroke-width="1.3" fill="none" stroke-linejoin="round"/>
<use href="#mf83c45" x="131.20" y="447.50"/>
<use href="#mf83c45" x="139.90" y="444.60"/>
<use href="#mf83c45" x="152.30" y="418.50"/>
<use href="#mf83c45" x="167.90" y="414.30"/>
<use href="#mf83c45" x="189.50" y="408.80"/>
<use href="#mf83c45" x="220.50" y="406.10"/>
<use href="#mf83c45" x="254.00" y="408.80"/>
<use href="#mf83c45" x="280.00" y="428.40"/>
<path d="M131.20 465.60 L142.30 463.20 L159.70 457.00 L183.30 446.50 L223.70 444.10 L278.80 449.00 L284.20 428.40" stroke="#6a97d0" stroke-width="1.3" fill="none" stroke-linejoin="round"/>
<use href="#m6a97d0" x="131.20" y="465.60"/>
<use href="#m6a97d0" x="142.30" y="463.20"/>
<use href="#m6a97d0" x="159.70" y="457.00"/>
<use href="#m6a97d0" x="183.30" y="446.50"/>
<use href="#m6a97d0" x="223.70" y="444.10"/>
<use href="#m6a97d0" x="278.80" y="449.00"/>
<path d="M131.20 466.40 L140.60 464.40 L157.20 461.20 L180.80 454.50 L221.20 452.00 L275.10 456.50 L284.20 451.50" stroke="#fccb46" stroke-width="1.3" fill="none" stroke-linejoin="round"/>
<use href="#mfccb46" x="131.20" y="466.40"/>
<use href="#mfccb46" x="140.60" y="464.40"/>
<use href="#mfccb46" x="157.20" y="461.20"/>
<use href="#mfccb46" x="180.80" y="454.50"/>
<use href="#mfccb46" x="221.20" y="452.00"/>
<use href="#mfccb46" x="275.10" y="456.50"/>
<path d="M131.20 450.80 L143.10 450.30 L160.20 441.60 L185.00 433.40 L225.50 434.60 L272.60 441.60 L284.20 413.00" stroke="#6dcf8d" stroke-width="1.3" fill="none" stroke-linejoin="round"/>
<use href="#m6dcf8d" x="131.20" y="450.80"/>
<use href="#m6dcf8d" x="143.10" y="450.30"/>
<use href="#m6dcf8d" x="160.20" y="441.60"/>
<use href="#m6dcf8d" x="185.00" y="433.40"/>
<use href="#m6dcf8d" x="225.50" y="434.60"/>
<use href="#m6dcf8d" x="272.60" y="441.60"/>
<path d="M131.20 463.90 L143.60 460.20 L160.20 454.50 L184.00 445.00 L224.70 437.10 L276.30 449.00 L284.20 443.50" stroke="#45bbeb" stroke-width="1.3" fill="none" stroke-linejoin="round"/>
<use href="#m45bbeb" x="131.20" y="463.90"/>
<use href="#m45bbeb" x="143.60" y="460.20"/>
<use href="#m45bbeb" x="160.20" y="454.50"/>
<use href="#m45bbeb" x="184.00" y="445.00"/>
<use href="#m45bbeb" x="224.70" y="437.10"/>
<use href="#m45bbeb" x="276.30" y="449.00"/>
</g>
<path d="M130.00 400.20h2.2 M130.00 405.23h4.2 M130.00 410.26h2.2 M130.00 415.29h4.2 M130.00 420.32h2.2 M130.00 425.35h4.2 M130.00 430.38h2.2 M130.00 435.41h4.2 M130.00 440.44h2.2 M130.00 445.47h4.2 M130.00 450.50h2.2 M130.00 455.53h4.2 M130.00 460.56h2.2 M130.00 465.59h4.2 M155.49 471.20v-2.4 M171.70 471.20v-2.4 M183.19 471.20v-2.4 M192.11 471.20v-2.4 M199.39 471.20v-2.4 M205.55 471.20v-2.4 M210.88 471.20v-2.4 M215.59 471.20v-2.4 M219.80 471.20v-4.2 M247.49 471.20v-2.4 M263.70 471.20v-2.4 M275.19 471.20v-2.4" stroke="#000" stroke-width="1.2" fill="none"/>
<rect x="130.0" y="396.4" width="154.20" height="74.80" fill="none" stroke="#111" stroke-width="1.45"/>
<clipPath id="cs"><rect x="483.0" y="402.4" width="129.20" height="73.50"/></clipPath>
<rect x="483.0" y="402.4" width="129.20" height="73.50" fill="#fff"/>
<g clip-path="url(#cs)">
<path d="M483.50 424.20 L496.20 414.70 L510.60 424.00 L531.10 418.30 L560.10 413.60 L594.60 420.80 L612.20 424.60" stroke="#f83c45" stroke-width="1.3" fill="none" stroke-linejoin="round"/>
<use href="#mf83c45" x="483.50" y="424.20"/>
<use href="#mf83c45" x="496.20" y="414.70"/>
<use href="#mf83c45" x="510.60" y="424.00"/>
<use href="#mf83c45" x="531.10" y="418.30"/>
<use href="#mf83c45" x="560.10" y="413.60"/>
<use href="#mf83c45" x="594.60" y="420.80"/>
<path d="M483.50 465.30 L497.90 462.30 L518.00 453.20 L551.60 438.40 L602.00 434.80 L612.20 436.90" stroke="#6a97d0" stroke-width="1.3" fill="none" stroke-linejoin="round"/>
<use href="#m6a97d0" x="483.50" y="465.30"/>
<use href="#m6a97d0" x="497.90" y="462.30"/>
<use href="#m6a97d0" x="518.00" y="453.20"/>
<use href="#m6a97d0" x="551.60" y="438.40"/>
<use href="#m6a97d0" x="602.00" y="434.80"/>
<path d="M483.50 467.00 L488.80 467.00 L506.30 463.80 L531.70 454.30 L574.10 450.00 L612.20 460.20" stroke="#fccb46" stroke-width="1.3" fill="none" stroke-linejoin="round"/>
<use href="#mfccb46" x="483.50" y="467.00"/>
<use href="#mfccb46" x="488.80" y="467.00"/>
<use href="#mfccb46" x="506.30" y="463.80"/>
<use href="#mfccb46" x="531.70" y="454.30"/>
<use href="#mfccb46" x="574.10" y="450.00"/>
<path d="M483.50 466.50 L503.20 466.50 L527.50 465.90 L562.20 455.30 L609.40 454.30 L612.20 454.30" stroke="#6dcf8d" stroke-width="1.3" fill="none" stroke-linejoin="round"/>
<use href="#m6dcf8d" x="483.50" y="466.50"/>
<use href="#m6dcf8d" x="503.20" y="466.50"/>
<use href="#m6dcf8d" x="527.50" y="465.90"/>
<use href="#m6dcf8d" x="562.20" y="455.30"/>
<use href="#m6dcf8d" x="609.40" y="454.30"/>
<path d="M483.50 458.10 L494.50 458.90 L513.50 445.40 L539.60 438.40 L580.40 438.00 L612.20 445.80" stroke="#45bbeb" stroke-width="1.3" fill="none" stroke-linejoin="round"/>
<use href="#m45bbeb" x="483.50" y="458.10"/>
<use href="#m45bbeb" x="494.50" y="458.90"/>
<use href="#m45bbeb" x="513.50" y="445.40"/>
<use href="#m45bbeb" x="539.60" y="438.40"/>
<use href="#m45bbeb" x="580.40" y="438.00"/>
</g>
<path d="M483.00 405.50h2.2 M483.00 411.61h4.2 M483.00 417.72h2.2 M483.00 423.83h4.2 M483.00 429.94h2.2 M483.00 436.05h4.2 M483.00 442.16h2.2 M483.00 448.27h4.2 M483.00 454.38h2.2 M483.00 460.49h4.2 M483.00 466.60h2.2 M483.00 472.71h4.2 M501.29 475.90v-2.4 M516.96 475.90v-2.4 M528.08 475.90v-2.4 M536.71 475.90v-2.4 M543.76 475.90v-2.4 M549.71 475.90v-2.4 M554.88 475.90v-2.4 M559.43 475.90v-2.4 M563.50 475.90v-4.2 M590.29 475.90v-2.4 M605.96 475.90v-2.4" stroke="#000" stroke-width="1.2" fill="none"/>
<rect x="483.0" y="402.4" width="129.20" height="73.50" fill="none" stroke="#111" stroke-width="1.45"/>
<rect x="60.2" y="6.0" width="311.80" height="249.30" fill="none" stroke="#2a2a2a" stroke-width="1.7"/>
<rect x="372.0" y="6.0" width="311.00" height="249.30" fill="none" stroke="#2a2a2a" stroke-width="1.7"/>
<rect x="60.3" y="313.7" width="312.00" height="249.70" fill="none" stroke="#2a2a2a" stroke-width="1.7"/>
<rect x="372.3" y="313.7" width="311.20" height="249.70" fill="none" stroke="#2a2a2a" stroke-width="1.7"/>
<text x="54.6" y="247.10" font-size="12" letter-spacing="0.37" text-anchor="end" font-family="Liberation Sans, sans-serif" font-weight="bold">0.000</text>
<text x="54.6" y="187.67" font-size="12" letter-spacing="0.37" text-anchor="end" font-family="Liberation Sans, sans-serif" font-weight="bold">0.005</text>
<text x="54.6" y="128.24" font-size="12" letter-spacing="0.37" text-anchor="end" font-family="Liberation Sans, sans-serif" font-weight="bold">0.010</text>
<text x="54.6" y="68.81" font-size="12" letter-spacing="0.37" text-anchor="end" font-family="Liberation Sans, sans-serif" font-weight="bold">0.015</text>
<text x="54.6" y="10.08" font-size="12" letter-spacing="0.37" text-anchor="end" font-family="Liberation Sans, sans-serif" font-weight="bold">0.020</text>
<text x="54.6" y="555.00" font-size="12" letter-spacing="0.37" text-anchor="end" font-family="Liberation Sans, sans-serif" font-weight="bold">0.000</text>
<text x="54.6" y="495.65" font-size="12" letter-spacing="0.37" text-anchor="end" font-family="Liberation Sans, sans-serif" font-weight="bold">0.005</text>
<text x="54.6" y="436.30" font-size="12" letter-spacing="0.37" text-anchor="end" font-family="Liberation Sans, sans-serif" font-weight="bold">0.010</text>
<text x="54.6" y="376.95" font-size="12" letter-spacing="0.37" text-anchor="end" font-family="Liberation Sans, sans-serif" font-weight="bold">0.015</text>
<text x="54.6" y="317.60" font-size="12" letter-spacing="0.37" text-anchor="end" font-family="Liberation Sans, sans-serif" font-weight="bold">0.020</text>
<text x="91.20" y="270.9" font-size="12" letter-spacing="0.37" text-anchor="middle" font-family="Liberation Sans, sans-serif" font-weight="bold">0.01</text>
<text x="150.00" y="270.9" font-size="12" letter-spacing="0.37" text-anchor="middle" font-family="Liberation Sans, sans-serif" font-weight="bold">0.1</text>
<text x="208.80" y="270.9" font-size="12" letter-spacing="0.37" text-anchor="middle" font-family="Liberation Sans, sans-serif" font-weight="bold">1</text>
<text x="267.60" y="270.9" font-size="12" letter-spacing="0.37" text-anchor="middle" font-family="Liberation Sans, sans-serif" font-weight="bold">10</text>
<text x="326.40" y="270.9" font-size="12" letter-spacing="0.37" text-anchor="middle" font-family="Liberation Sans, sans-serif" font-weight="bold">100</text>
<text x="402.60" y="270.9" font-size="12" letter-spacing="0.37" text-anchor="middle" font-family="Liberation Sans, sans-serif" font-weight="bold">0.01</text>
<text x="461.05" y="270.9" font-size="12" letter-spacing="0.37" text-anchor="middle" font-family="Liberation Sans, sans-serif" font-weight="bold">0.1</text>
<text x="519.50" y="270.9" font-size="12" letter-spacing="0.37" text-anchor="middle" font-family="Liberation Sans, sans-serif" font-weight="bold">1</text>
<text x="577.95" y="270.9" font-size="12" letter-spacing="0.37" text-anchor="middle" font-family="Liberation Sans, sans-serif" font-weight="bold">10</text>
<text x="636.40" y="270.9" font-size="12" letter-spacing="0.37" text-anchor="middle" font-family="Liberation Sans, sans-serif" font-weight="bold">100</text>
<text x="100.80" y="579.2" font-size="12" letter-spacing="0.37" text-anchor="middle" font-family="Liberation Sans, sans-serif" font-weight="bold">10</text>
<text x="158.50" y="579.2" font-size="12" letter-spacing="0.37" text-anchor="middle" font-family="Liberation Sans, sans-serif" font-weight="bold">100</text>
<text x="216.20" y="579.2" font-size="12" letter-spacing="0.37" text-anchor="middle" font-family="Liberation Sans, sans-serif" font-weight="bold">1000</text>
<text x="273.90" y="579.2" font-size="12" letter-spacing="0.37" text-anchor="middle" font-family="Liberation Sans, sans-serif" font-weight="bold">10000</text>
<text x="331.60" y="579.2" font-size="12" letter-spacing="0.37" text-anchor="middle" font-family="Liberation Sans, sans-serif" font-weight="bold">100000</text>
<text x="412.40" y="579.2" font-size="12" letter-spacing="0.37" text-anchor="middle" font-family="Liberation Sans, sans-serif" font-weight="bold">10</text>
<text x="470.30" y="579.2" font-size="12" letter-spacing="0.37" text-anchor="middle" font-family="Liberation Sans, sans-serif" font-weight="bold">100</text>
<text x="528.20" y="579.2" font-size="12" letter-spacing="0.37" text-anchor="middle" font-family="Liberation Sans, sans-serif" font-weight="bold">1000</text>
<text x="586.10" y="579.2" font-size="12" letter-spacing="0.37" text-anchor="middle" font-family="Liberation Sans, sans-serif" font-weight="bold">10000</text>
<text x="644.00" y="579.2" font-size="12" letter-spacing="0.37" text-anchor="middle" font-family="Liberation Sans, sans-serif" font-weight="bold">100000</text>
<text transform="translate(211.3,289.9) scale(1,1.05)" font-size="15.45" text-anchor="middle" font-family="Liberation Sans, sans-serif" font-weight="bold">Pressure (MPa)</text>
<text transform="translate(533,290.9) scale(1,1.05)" font-size="15.45" text-anchor="middle" font-family="Liberation Sans, sans-serif" font-weight="bold">Pressure (MPa)</text>
<text transform="translate(215,599.9) scale(1,1.05)" font-size="15.4" text-anchor="middle" font-family="Liberation Sans, sans-serif" font-weight="bold">Pore diameter (nm)</text>
<text transform="translate(528,599.9) scale(1,1.05)" font-size="15.4" text-anchor="middle" font-family="Liberation Sans, sans-serif" font-weight="bold">Pore diameter (nm)</text>
<text transform="translate(12.0,130.3) rotate(-90) scale(1,1.07)" font-size="15.45" text-anchor="middle" font-family="Liberation Sans, sans-serif" font-weight="bold">Cumulative Intrusion (cc/g)</text>
<text transform="translate(12.0,438.3) rotate(-90) scale(1,1.07)" font-size="15.35" text-anchor="middle" font-family="Liberation Sans, sans-serif" font-weight="bold" xml:space="preserve">-dV/d(logd)  (cc/g)</text>
<rect x="161.3" y="10.3" width="35.80" height="23.70" fill="#7a7a7a"/>
<rect x="159.3" y="8.3" width="35.80" height="23.70" fill="#8efcfc"/>
<text transform="translate(177.2,26.5) scale(1,1.04)" font-size="17.2" text-anchor="middle" font-family="Liberation Sans, sans-serif" font-weight="bold">JX</text>
<rect x="472.3" y="9.4" width="35.10" height="24.00" fill="#7a7a7a"/>
<rect x="470.3" y="7.4" width="35.10" height="24.00" fill="#8efcfc"/>
<text transform="translate(487.9,25.7) scale(1,1.06)" font-size="17.2" text-anchor="middle" font-family="Liberation Sans, sans-serif" font-weight="bold">SC</text>
<rect x="167.2" y="322.1" width="35.60" height="23.60" fill="#7a7a7a"/>
<rect x="165.2" y="320.1" width="35.60" height="23.60" fill="#8efcfc"/>
<text transform="translate(183.2,338.5) scale(1,1.04)" font-size="17.2" text-anchor="middle" font-family="Liberation Sans, sans-serif" font-weight="bold">JX</text>
<rect x="479.1" y="322.2" width="35.50" height="23.70" fill="#7a7a7a"/>
<rect x="477.1" y="320.2" width="35.50" height="23.70" fill="#8efcfc"/>
<text transform="translate(494.9,338.5) scale(1,1.04)" font-size="17.2" text-anchor="middle" font-family="Liberation Sans, sans-serif" font-weight="bold">SC</text>
<line x1="71.0" y1="20.3" x2="98.0" y2="20.3" stroke="#f83c45" stroke-width="1.4"/>
<circle cx="84.10" cy="20.30" r="2.6" fill="#f83c45"/><circle cx="83.40" cy="19.60" r="0.99" fill="#fff" fill-opacity="0.75"/>
<text x="101.5" y="24.40" font-size="11.5" font-family="Liberation Sans, sans-serif" font-weight="bold">Untreated</text>
<line x1="71.0" y1="35.2" x2="98.0" y2="35.2" stroke="#6a97d0" stroke-width="1.4"/>
<circle cx="84.10" cy="35.20" r="2.6" fill="#6a97d0"/><circle cx="83.40" cy="34.50" r="0.99" fill="#fff" fill-opacity="0.75"/>
<text x="101.5" y="39.30" font-size="11.5" font-family="Liberation Sans, sans-serif" font-weight="bold">0MPa</text>
<line x1="71.0" y1="50.0" x2="98.0" y2="50.0" stroke="#fccb46" stroke-width="1.4"/>
<circle cx="84.10" cy="50.00" r="2.6" fill="#fccb46"/><circle cx="83.40" cy="49.30" r="0.99" fill="#fff" fill-opacity="0.75"/>
<text x="101.5" y="54.10" font-size="11.5" font-family="Liberation Sans, sans-serif" font-weight="bold">5MPa</text>
<line x1="71.0" y1="64.9" x2="98.0" y2="64.9" stroke="#6dcf8d" stroke-width="1.4"/>
<circle cx="84.10" cy="64.90" r="2.6" fill="#6dcf8d"/><circle cx="83.40" cy="64.20" r="0.99" fill="#fff" fill-opacity="0.75"/>
<text x="101.5" y="69.00" font-size="11.5" font-family="Liberation Sans, sans-serif" font-weight="bold">15MPa</text>
<line x1="71.0" y1="79.6" x2="98.0" y2="79.6" stroke="#45bbeb" stroke-width="1.4"/>
<circle cx="84.10" cy="79.60" r="2.6" fill="#45bbeb"/><circle cx="83.40" cy="78.90" r="0.99" fill="#fff" fill-opacity="0.75"/>
<text x="101.5" y="83.70" font-size="11.5" font-family="Liberation Sans, sans-serif" font-weight="bold">25MPa</text>
<line x1="382.2" y1="20.0" x2="409.4" y2="20.0" stroke="#f83c45" stroke-width="1.4"/>
<circle cx="395.90" cy="20.00" r="2.6" fill="#f83c45"/><circle cx="395.20" cy="19.30" r="0.99" fill="#fff" fill-opacity="0.75"/>
<text x="412.9" y="24.10" font-size="11.5" font-family="Liberation Sans, sans-serif" font-weight="bold">Untreated</text>
<line x1="382.2" y1="35.3" x2="409.4" y2="35.3" stroke="#6a97d0" stroke-width="1.4"/>
<circle cx="395.90" cy="35.30" r="2.6" fill="#6a97d0"/><circle cx="395.20" cy="34.60" r="0.99" fill="#fff" fill-opacity="0.75"/>
<text x="412.9" y="39.40" font-size="11.5" font-family="Liberation Sans, sans-serif" font-weight="bold">0MPa</text>
<line x1="382.2" y1="50.1" x2="409.4" y2="50.1" stroke="#fccb46" stroke-width="1.4"/>
<circle cx="395.90" cy="50.10" r="2.6" fill="#fccb46"/><circle cx="395.20" cy="49.40" r="0.99" fill="#fff" fill-opacity="0.75"/>
<text x="412.9" y="54.20" font-size="11.5" font-family="Liberation Sans, sans-serif" font-weight="bold">5MPa</text>
<line x1="382.2" y1="65.1" x2="409.4" y2="65.1" stroke="#6dcf8d" stroke-width="1.4"/>
<circle cx="395.90" cy="65.10" r="2.6" fill="#6dcf8d"/><circle cx="395.20" cy="64.40" r="0.99" fill="#fff" fill-opacity="0.75"/>
<text x="412.9" y="69.20" font-size="11.5" font-family="Liberation Sans, sans-serif" font-weight="bold">15MPa</text>
<line x1="382.2" y1="79.9" x2="409.4" y2="79.9" stroke="#45bbeb" stroke-width="1.4"/>
<circle cx="395.90" cy="79.90" r="2.6" fill="#45bbeb"/><circle cx="395.20" cy="79.20" r="0.99" fill="#fff" fill-opacity="0.75"/>
<text x="412.9" y="84.00" font-size="11.5" font-family="Liberation Sans, sans-serif" font-weight="bold">25MPa</text>
<line x1="246.6" y1="329.3" x2="273.6" y2="329.3" stroke="#f83c45" stroke-width="1.15"/>
<circle cx="260.1" cy="329.3" r="1.1" fill="#f83c45"/>
<text x="276.8" y="333.40" font-size="11.5" font-family="Liberation Sans, sans-serif" font-weight="bold">Untreated</text>
<line x1="246.6" y1="344.5" x2="273.6" y2="344.5" stroke="#6a97d0" stroke-width="1.15"/>
<circle cx="260.1" cy="344.5" r="1.1" fill="#6a97d0"/>
<text x="276.8" y="348.60" font-size="11.5" font-family="Liberation Sans, sans-serif" font-weight="bold">0MPa</text>
<line x1="246.6" y1="359.1" x2="273.6" y2="359.1" stroke="#fccb46" stroke-width="1.15"/>
<circle cx="260.1" cy="359.1" r="1.1" fill="#fccb46"/>
<text x="276.8" y="363.20" font-size="11.5" font-family="Liberation Sans, sans-serif" font-weight="bold">5MPa</text>
<line x1="246.6" y1="374.1" x2="273.6" y2="374.1" stroke="#6dcf8d" stroke-width="1.15"/>
<circle cx="260.1" cy="374.1" r="1.1" fill="#6dcf8d"/>
<text x="276.8" y="378.20" font-size="11.5" font-family="Liberation Sans, sans-serif" font-weight="bold">15MPa</text>
<line x1="246.6" y1="389.0" x2="273.6" y2="389.0" stroke="#45bbeb" stroke-width="1.15"/>
<circle cx="260.1" cy="389.0" r="1.1" fill="#45bbeb"/>
<text x="276.8" y="393.10" font-size="11.5" font-family="Liberation Sans, sans-serif" font-weight="bold">25MPa</text>
<line x1="558.6" y1="329.1" x2="585.5" y2="329.1" stroke="#f83c45" stroke-width="1.15"/>
<circle cx="572.0" cy="329.1" r="1.1" fill="#f83c45"/>
<text x="588.8" y="333.20" font-size="11.5" font-family="Liberation Sans, sans-serif" font-weight="bold">Untreated</text>
<line x1="558.6" y1="344.2" x2="585.5" y2="344.2" stroke="#6a97d0" stroke-width="1.15"/>
<circle cx="572.0" cy="344.2" r="1.1" fill="#6a97d0"/>
<text x="588.8" y="348.30" font-size="11.5" font-family="Liberation Sans, sans-serif" font-weight="bold">0MPa</text>
<line x1="558.6" y1="359.6" x2="585.5" y2="359.6" stroke="#fccb46" stroke-width="1.15"/>
<circle cx="572.0" cy="359.6" r="1.1" fill="#fccb46"/>
<text x="588.8" y="363.70" font-size="11.5" font-family="Liberation Sans, sans-serif" font-weight="bold">5MPa</text>
<line x1="558.6" y1="374.4" x2="585.5" y2="374.4" stroke="#6dcf8d" stroke-width="1.15"/>
<circle cx="572.0" cy="374.4" r="1.1" fill="#6dcf8d"/>
<text x="588.8" y="378.50" font-size="11.5" font-family="Liberation Sans, sans-serif" font-weight="bold">15MPa</text>
<line x1="558.6" y1="389.2" x2="585.5" y2="389.2" stroke="#45bbeb" stroke-width="1.15"/>
<circle cx="572.0" cy="389.2" r="1.1" fill="#45bbeb"/>
<text x="588.8" y="393.30" font-size="11.5" font-family="Liberation Sans, sans-serif" font-weight="bold">25MPa</text>
<text x="84.9" y="100.5" font-size="10.5" fill="#f83c45" font-family="Liberation Sans, sans-serif" font-weight="bold">Untreated</text>
<text x="84.9" y="113.8" font-size="10.5" fill="#6dcf8d" font-family="Liberation Sans, sans-serif" font-weight="bold">15MPa</text>
<text x="84.9" y="127.2" font-size="10.5" fill="#45bbeb" font-family="Liberation Sans, sans-serif" font-weight="bold">25MPa</text>
<text x="84.9" y="140.5" font-size="10.5" fill="#6a97d0" font-family="Liberation Sans, sans-serif" font-weight="bold">0MPa</text>
<text x="84.9" y="153.9" font-size="10.5" fill="#fccb46" font-family="Liberation Sans, sans-serif" font-weight="bold">5MPa</text>
<text x="396.2" y="100.3" font-size="10.5" fill="#f83c45" font-family="Liberation Sans, sans-serif" font-weight="bold">Untreated</text>
<text x="396.2" y="113.6" font-size="10.5" fill="#45bbeb" font-family="Liberation Sans, sans-serif" font-weight="bold">25MPa</text>
<text x="396.2" y="127.0" font-size="10.5" fill="#6a97d0" font-family="Liberation Sans, sans-serif" font-weight="bold">0MPa</text>
<text x="396.2" y="140.4" font-size="10.5" fill="#fccb46" font-family="Liberation Sans, sans-serif" font-weight="bold">5MPa</text>
<text x="396.2" y="153.8" font-size="10.5" fill="#6dcf8d" font-family="Liberation Sans, sans-serif" font-weight="bold">15MPa</text>
<line x1="76.2" y1="105.9" x2="76.2" y2="137.4" stroke="#1a1a1a" stroke-width="1.6" stroke-dasharray="6.6 5.8"/>
<path d="M72.60000000000001 144.0 Q75.0 146.4 76.2 146.0 Q77.4 146.4 79.8 144.0 L76.2 152.6 Z" fill="#111"/>
<line x1="387.6" y1="101.0" x2="387.6" y2="145.0" stroke="#1a1a1a" stroke-width="1.6" stroke-dasharray="6.5 5.5"/>
<path d="M384.0 142.5 Q386.40000000000003 144.9 387.6 144.5 Q388.8 144.9 391.20000000000005 142.5 L387.6 151.1 Z" fill="#111"/>
</svg>
</body></html>
